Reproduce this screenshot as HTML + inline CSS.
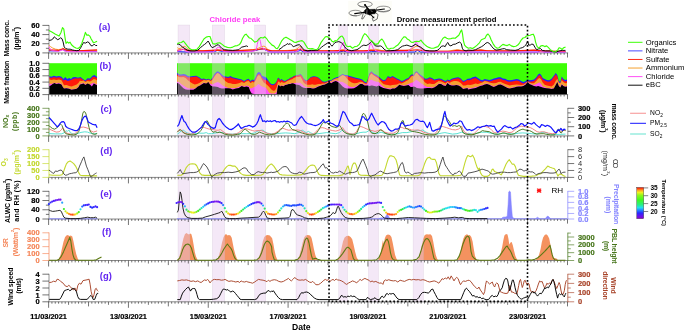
<!DOCTYPE html>
<html><head><meta charset="utf-8"><title>Figure</title>
<style>html,body{margin:0;padding:0;background:#fff}svg{display:block}</style></head>
<body>
<svg width="685" height="331" viewBox="0 0 685 331" font-family="'Liberation Sans', Arial, sans-serif">
<rect width="685" height="331" fill="#fff"/>
<rect x="49.0" y="63.2" width="48.0" height="31.8" fill="#3dff05"/>
<path d="M49.0 95.0 L49.0 76.1 L51.3 76.8 L53.9 75.8 L56.4 76.4 L58.9 76.0 L61.5 76.8 L63.4 78.9 L65.3 77.0 L67.2 78.9 L69.1 78.0 L71.0 78.9 L72.9 77.3 L75.4 77.0 L78.0 77.7 L80.5 77.0 L83.0 78.9 L85.3 80.6 L87.5 78.3 L90.0 78.5 L92.6 75.8 L94.5 75.1 L96.4 76.4 L97.0 76.8 L97.0 95.0Z" fill="#2222ff"/>
<path d="M49.0 95.0 L49.0 77.3 L51.3 78.0 L53.9 77.0 L56.4 77.7 L58.9 77.3 L61.5 78.0 L63.4 80.6 L65.3 79.8 L67.8 81.1 L70.4 80.2 L72.9 78.9 L75.4 78.3 L78.0 78.5 L80.5 78.0 L83.0 79.8 L85.3 81.5 L87.5 79.6 L90.0 79.8 L92.6 77.0 L94.5 76.8 L97.0 78.0 L97.0 95.0Z" fill="#ff1a0a"/>
<path d="M49.0 95.0 L49.0 79.2 L51.3 79.9 L53.9 79.4 L56.4 80.1 L58.9 79.4 L61.5 80.3 L62.8 82.7 L64.0 85.3 L66.6 84.9 L69.1 85.9 L71.6 86.5 L74.2 85.6 L76.7 84.6 L78.6 82.7 L79.9 80.8 L81.8 81.1 L83.7 80.6 L85.3 82.1 L87.5 81.1 L90.0 81.5 L91.9 80.6 L93.8 78.9 L95.7 79.6 L97.0 80.6 L97.0 95.0Z" fill="#f5a030"/>
<path d="M49.0 95.0 L49.0 83.4 L50.7 84.0 L52.6 83.4 L54.5 82.7 L56.4 83.4 L58.9 82.7 L61.5 84.0 L62.8 86.5 L64.0 88.4 L66.6 87.8 L69.1 88.4 L71.6 89.4 L74.2 89.1 L76.7 88.4 L78.6 86.5 L79.9 84.0 L81.8 83.6 L83.7 83.1 L85.3 84.6 L87.5 83.4 L90.0 84.4 L91.9 83.4 L93.8 82.7 L95.7 84.0 L97.0 84.6 L97.0 95.0Z" fill="#ff50f5"/>
<path d="M49.0 95.0 L49.0 86.2 L50.7 85.6 L52.6 84.0 L54.5 83.1 L56.4 84.0 L58.9 83.4 L61.5 84.4 L62.8 86.9 L64.0 88.4 L66.6 88.2 L69.1 88.7 L71.6 89.7 L74.2 89.2 L76.7 88.7 L78.6 86.9 L79.9 84.4 L81.8 84.0 L83.7 83.4 L85.3 84.9 L87.5 83.6 L90.0 84.6 L91.9 86.5 L93.8 83.4 L95.7 84.4 L97.0 85.3 L97.0 95.0Z" fill="#000"/>
<rect x="177.0" y="63.2" width="390.0" height="31.8" fill="#3dff05"/>
<path d="M177.0 95.0 L177.0 72.7 L178.8 74.2 L181.1 74.5 L183.4 73.9 L185.7 74.5 L187.9 76.0 L190.2 76.5 L193.3 76.0 L196.3 75.7 L199.3 77.3 L201.6 79.1 L203.9 78.5 L206.2 79.5 L208.4 78.8 L210.7 80.0 L212.7 77.3 L214.5 73.9 L216.3 71.9 L217.8 71.2 L219.8 72.4 L221.8 74.5 L223.6 76.0 L225.9 76.5 L228.2 77.0 L230.4 76.0 L232.7 77.3 L235.8 78.0 L238.8 78.8 L241.8 79.5 L244.1 81.0 L246.4 79.5 L248.7 78.8 L250.6 81.0 L252.2 79.5 L254.0 80.3 L255.8 76.5 L257.3 73.0 L258.8 71.9 L260.4 72.7 L261.9 75.7 L263.8 76.5 L266.1 77.3 L268.0 80.1 L269.7 82.4 L271.4 84.1 L273.2 84.3 L274.9 83.5 L276.6 81.2 L277.8 78.1 L278.9 77.8 L280.1 80.1 L281.5 78.9 L283.5 80.4 L285.2 80.9 L286.9 79.7 L288.7 78.9 L290.4 77.8 L292.1 77.2 L293.8 76.1 L295.6 75.5 L297.3 74.9 L299.0 74.7 L300.4 74.0 L301.9 75.5 L303.6 78.4 L305.3 80.1 L307.0 80.4 L308.8 78.9 L310.5 77.2 L312.2 76.6 L313.9 76.3 L315.6 76.4 L317.4 77.0 L319.1 78.1 L320.8 79.7 L322.5 81.2 L324.3 81.8 L326.0 81.6 L327.7 80.7 L329.4 80.1 L331.2 80.3 L333.5 78.5 L335.8 77.6 L338.0 77.0 L340.3 75.4 L342.6 73.9 L344.9 75.0 L347.1 75.0 L349.4 76.0 L351.7 76.5 L354.0 77.3 L357.0 78.0 L360.1 78.8 L362.3 79.5 L364.6 81.8 L366.4 82.6 L367.9 78.8 L369.5 73.5 L371.4 71.2 L372.0 71.9 L374.3 73.9 L376.6 75.0 L378.8 76.5 L381.1 78.8 L383.4 80.3 L385.7 79.5 L387.9 76.0 L390.2 77.3 L392.5 76.0 L394.8 77.3 L397.0 78.5 L399.3 79.5 L401.6 81.0 L403.9 80.3 L406.2 78.8 L408.4 78.0 L410.7 75.0 L412.2 74.2 L413.7 75.0 L415.3 71.9 L416.8 71.2 L418.3 73.0 L420.6 75.0 L422.9 76.5 L425.1 78.8 L427.4 78.5 L429.7 77.3 L432.0 78.0 L434.2 79.5 L436.5 79.1 L438.8 78.5 L441.1 78.8 L443.4 80.0 L445.6 81.0 L447.5 79.5 L449.4 80.3 L451.7 78.8 L454.0 78.0 L456.3 77.6 L458.5 77.3 L460.8 78.5 L463.1 81.0 L465.4 80.3 L467.6 78.8 L468.0 78.8 L470.3 78.5 L472.6 77.3 L475.6 76.5 L477.9 78.0 L480.1 79.5 L482.4 80.3 L484.7 79.1 L487.0 79.5 L489.3 80.0 L491.5 79.5 L493.8 78.5 L496.1 78.0 L498.4 77.3 L500.6 77.3 L502.9 78.5 L505.2 78.8 L507.5 80.0 L509.7 80.3 L512.0 80.0 L514.3 79.5 L516.6 79.1 L518.9 79.5 L521.1 81.0 L523.4 82.1 L525.7 81.0 L527.7 79.5 L529.5 80.3 L531.8 80.0 L534.0 79.5 L536.3 77.3 L538.1 74.5 L539.7 73.5 L541.2 75.0 L542.7 78.0 L544.7 79.1 L546.9 80.0 L549.2 80.3 L551.5 78.8 L553.8 75.7 L555.7 73.0 L557.3 75.0 L558.8 81.0 L560.3 81.8 L561.8 76.5 L563.3 78.8 L565.2 80.0 L567.0 79.5 L567.0 95.0Z" fill="#2222ff"/>
<path d="M177.0 95.0 L177.0 74.2 L178.8 75.4 L181.1 75.7 L183.4 75.4 L185.7 76.0 L187.9 77.6 L190.2 77.3 L193.3 77.0 L196.3 76.6 L199.3 78.2 L201.6 80.0 L203.9 79.2 L206.2 80.3 L208.4 79.5 L210.7 80.6 L212.7 78.5 L214.5 75.4 L216.3 73.5 L217.8 72.7 L219.8 73.9 L221.8 76.0 L223.6 77.3 L225.9 77.6 L228.2 77.9 L230.4 77.3 L232.7 78.2 L235.8 79.1 L238.8 79.7 L241.8 80.3 L244.1 81.8 L246.4 80.3 L248.7 79.7 L250.6 82.1 L252.2 80.6 L254.0 81.5 L255.8 78.5 L257.3 75.0 L258.8 73.9 L260.4 74.5 L261.9 77.6 L263.8 79.5 L266.1 80.0 L268.0 81.2 L269.7 83.5 L271.4 85.0 L273.2 85.3 L274.9 84.3 L276.6 82.0 L277.8 78.9 L278.9 78.6 L280.1 80.9 L281.5 79.7 L283.5 81.2 L285.2 81.6 L286.9 80.4 L288.7 79.5 L290.4 78.4 L292.1 77.8 L293.8 76.6 L295.6 76.1 L297.3 75.5 L299.0 75.3 L300.4 74.7 L301.9 76.1 L303.6 78.9 L305.3 80.7 L307.0 81.0 L308.8 79.5 L310.5 77.8 L312.2 77.2 L313.9 76.9 L315.6 77.0 L317.4 77.6 L319.1 78.7 L320.8 80.3 L322.5 81.8 L324.3 82.4 L326.0 82.2 L327.7 81.2 L329.4 80.7 L331.2 81.2 L333.5 79.4 L335.8 78.5 L338.0 77.9 L340.3 76.3 L342.6 74.8 L344.9 75.9 L347.1 75.9 L349.4 76.9 L351.7 77.4 L354.0 78.2 L357.0 78.9 L360.1 79.7 L362.3 80.4 L364.6 82.7 L366.4 83.5 L367.9 79.7 L369.5 74.4 L371.4 72.1 L372.0 72.9 L374.3 74.9 L376.6 76.0 L378.8 77.5 L381.1 79.8 L383.4 81.3 L385.7 80.5 L387.9 77.0 L390.2 78.3 L392.5 77.0 L394.8 78.3 L397.0 79.5 L399.3 80.5 L401.6 82.0 L403.9 81.3 L406.2 79.8 L408.4 79.0 L410.7 76.0 L412.2 75.2 L413.7 76.0 L415.3 72.9 L416.8 72.2 L418.3 74.0 L420.6 76.0 L422.9 77.5 L425.1 79.8 L427.4 79.5 L429.7 78.3 L432.0 79.0 L434.2 80.5 L436.5 80.1 L438.8 79.5 L441.1 79.8 L443.4 81.0 L445.6 82.0 L447.5 80.5 L449.4 81.3 L451.7 79.8 L454.0 79.0 L456.3 78.6 L458.5 78.3 L460.8 79.5 L463.1 82.0 L465.4 81.3 L467.6 79.8 L468.0 80.2 L470.3 79.9 L472.6 78.7 L475.6 77.9 L477.9 79.4 L480.1 80.9 L482.4 81.7 L484.7 80.5 L487.0 80.9 L489.3 81.4 L491.5 80.9 L493.8 79.9 L496.1 79.4 L498.4 78.7 L500.6 78.7 L502.9 79.9 L505.2 80.2 L507.5 81.4 L509.7 81.7 L512.0 81.4 L514.3 80.9 L516.6 80.5 L518.9 80.9 L521.1 82.4 L523.4 83.5 L525.7 82.4 L527.7 80.9 L529.5 81.7 L531.8 81.4 L534.0 80.9 L536.3 78.7 L538.1 75.9 L539.7 74.9 L541.2 76.4 L542.7 79.4 L544.7 80.5 L546.9 81.4 L549.2 81.7 L551.5 80.2 L553.8 77.1 L555.7 74.4 L557.3 76.4 L558.8 82.4 L560.3 83.2 L561.8 77.9 L563.3 80.2 L565.2 81.4 L567.0 80.9 L567.0 95.0Z" fill="#ff1a0a"/>
<path d="M177.0 95.0 L177.0 75.7 L178.8 77.0 L181.1 77.3 L183.4 77.0 L185.7 78.0 L187.9 80.3 L190.2 82.1 L192.5 83.6 L194.8 84.5 L197.0 84.1 L199.3 83.0 L201.6 81.5 L203.9 80.0 L206.2 80.6 L208.4 79.7 L210.7 81.0 L212.7 79.5 L214.5 76.5 L216.3 73.9 L217.8 73.0 L219.8 74.2 L221.8 77.3 L223.6 79.5 L225.9 81.5 L228.2 83.0 L230.4 83.3 L232.7 84.1 L235.8 84.1 L238.8 83.3 L241.8 82.1 L244.1 83.0 L246.4 81.5 L248.7 81.0 L250.6 83.3 L252.2 82.1 L254.0 82.6 L255.8 80.0 L257.3 76.5 L258.8 75.0 L260.4 76.0 L261.9 79.5 L263.8 82.6 L266.1 84.1 L268.0 85.8 L269.7 87.6 L271.4 89.6 L273.2 90.8 L274.9 90.4 L276.6 87.6 L277.8 82.4 L278.9 81.2 L280.1 83.0 L281.5 82.0 L283.5 82.7 L285.2 82.4 L286.9 81.2 L288.7 80.4 L290.4 79.7 L292.1 79.3 L293.8 78.1 L295.6 77.2 L297.3 77.0 L299.0 77.0 L300.4 76.6 L301.9 78.9 L303.6 82.4 L305.3 84.1 L307.0 84.7 L308.8 84.7 L310.5 84.7 L312.2 84.3 L313.9 84.7 L315.6 84.7 L317.4 84.3 L319.1 83.9 L320.8 83.9 L322.5 83.5 L324.3 83.5 L326.0 83.0 L327.7 81.8 L329.4 81.0 L331.2 81.0 L333.5 79.5 L335.8 78.5 L338.0 78.0 L340.3 76.5 L342.6 75.0 L344.9 76.0 L347.1 78.8 L349.4 81.0 L351.7 82.6 L354.0 83.3 L357.0 83.0 L360.1 81.8 L362.3 82.1 L364.6 83.6 L366.4 84.1 L367.9 81.0 L369.5 75.7 L371.4 73.5 L372.0 73.9 L374.3 75.7 L376.6 77.3 L378.8 78.8 L381.1 81.8 L383.4 84.1 L385.7 84.8 L387.9 85.1 L390.2 85.6 L392.5 85.1 L394.8 84.8 L397.0 84.5 L399.3 83.3 L401.6 83.6 L403.9 82.6 L406.2 81.0 L408.4 80.0 L410.7 77.3 L412.2 75.7 L413.7 76.5 L415.3 73.5 L416.8 72.4 L418.3 74.5 L420.6 77.3 L422.9 80.0 L425.1 82.6 L427.4 84.1 L429.7 83.6 L432.0 84.1 L434.2 84.1 L436.5 82.6 L438.8 81.0 L441.1 81.5 L443.4 82.6 L445.6 83.6 L447.5 81.5 L449.4 83.0 L451.7 81.8 L454.0 81.0 L456.3 81.0 L458.5 81.5 L460.8 83.0 L463.1 85.6 L465.4 85.6 L467.6 84.8 L468.0 84.8 L470.3 85.1 L472.6 84.5 L475.6 83.6 L477.9 84.1 L480.1 83.3 L482.4 82.6 L484.7 81.0 L487.0 81.5 L489.3 82.6 L491.5 83.0 L493.8 83.3 L496.1 83.0 L498.4 82.1 L500.6 81.8 L502.9 83.0 L505.2 84.1 L507.5 84.8 L509.7 85.6 L512.0 85.1 L514.3 84.8 L516.6 84.5 L518.9 84.8 L521.1 85.1 L523.4 84.8 L525.7 83.3 L527.7 81.0 L529.5 82.6 L531.8 83.3 L534.0 83.3 L536.3 81.0 L538.1 78.8 L539.7 78.0 L541.2 79.5 L542.7 82.6 L544.7 84.8 L546.9 85.6 L549.2 86.1 L551.5 86.4 L553.8 84.8 L555.7 81.0 L557.3 78.8 L558.8 82.6 L560.3 83.3 L561.8 80.3 L563.3 82.1 L565.2 83.3 L567.0 83.0 L567.0 95.0Z" fill="#f5a030"/>
<path d="M177.0 95.0 L177.0 81.8 L178.8 82.1 L181.1 84.1 L183.4 85.6 L185.7 87.1 L187.9 88.2 L190.2 88.6 L192.5 88.6 L194.8 88.6 L197.0 87.1 L199.3 85.6 L201.6 84.1 L203.9 82.6 L206.2 83.3 L208.4 82.1 L210.7 84.1 L212.7 84.5 L214.5 83.3 L216.3 82.6 L217.8 82.1 L219.8 83.0 L221.8 84.8 L223.6 86.1 L225.9 87.1 L228.2 87.9 L230.4 87.9 L232.7 88.2 L235.8 87.9 L238.8 87.1 L241.8 85.6 L244.1 86.4 L246.4 85.6 L248.7 86.1 L250.6 88.6 L252.2 87.9 L254.0 87.1 L255.8 86.4 L257.3 84.8 L258.8 84.1 L260.4 85.6 L261.9 86.4 L263.8 87.1 L266.1 87.9 L268.0 90.8 L269.1 92.7 L271.4 93.5 L274.9 93.5 L276.6 92.1 L277.8 85.0 L278.9 84.7 L280.1 86.2 L281.5 85.5 L283.5 85.8 L285.2 84.7 L286.9 84.3 L288.7 83.9 L290.4 83.5 L292.1 83.0 L293.8 83.0 L295.6 83.0 L297.3 82.7 L299.0 82.7 L300.4 83.0 L301.9 84.1 L303.6 85.8 L305.3 87.0 L307.0 87.6 L308.8 87.6 L310.5 87.6 L312.2 88.1 L313.9 88.1 L315.6 87.6 L317.4 86.6 L319.1 85.8 L320.8 85.5 L322.5 84.7 L324.3 84.3 L326.0 83.9 L327.7 82.7 L329.4 81.8 L331.2 82.6 L333.5 81.0 L335.8 80.3 L338.0 81.0 L340.3 81.8 L342.6 82.1 L344.9 83.3 L347.1 84.8 L349.4 86.4 L351.7 87.1 L354.0 87.1 L357.0 85.6 L360.1 83.6 L362.3 83.6 L364.6 84.8 L366.4 84.8 L367.9 83.0 L369.5 80.3 L371.4 79.5 L372.0 80.0 L374.3 81.0 L376.6 81.8 L378.8 82.1 L381.1 84.8 L383.4 86.7 L385.7 87.9 L387.9 88.2 L390.2 88.6 L392.5 88.2 L394.8 87.9 L397.0 86.4 L399.3 84.5 L401.6 85.1 L403.9 85.6 L406.2 85.1 L408.4 84.1 L410.7 83.0 L412.2 82.6 L413.7 82.1 L415.3 80.3 L416.8 80.0 L418.3 81.0 L420.6 83.0 L422.9 84.5 L425.1 86.1 L427.4 87.1 L429.7 87.1 L432.0 87.6 L434.2 87.1 L436.5 85.6 L438.8 83.6 L441.1 83.6 L443.4 84.8 L445.6 85.6 L447.5 82.6 L449.4 84.1 L451.7 85.1 L454.0 85.1 L456.3 84.8 L458.5 85.1 L460.8 86.4 L463.1 88.6 L465.4 88.2 L467.6 87.6 L468.0 88.6 L470.3 88.2 L472.6 87.9 L475.6 87.1 L477.9 86.7 L480.1 85.6 L482.4 85.1 L484.7 84.1 L487.0 83.6 L489.3 84.5 L491.5 85.6 L493.8 86.4 L496.1 85.6 L498.4 84.5 L500.6 84.1 L502.9 85.1 L505.2 86.4 L507.5 87.6 L509.7 88.2 L512.0 87.6 L514.3 87.1 L516.6 86.4 L518.9 86.1 L521.1 86.1 L523.4 85.6 L525.7 84.1 L527.7 81.8 L529.5 83.6 L531.8 84.5 L534.0 85.1 L536.3 84.1 L538.1 83.0 L539.7 82.6 L541.2 84.1 L542.7 86.4 L544.7 87.1 L546.9 87.9 L549.2 88.2 L551.5 88.6 L553.8 88.2 L555.7 84.8 L557.3 81.8 L558.8 85.6 L560.3 87.1 L561.8 84.1 L563.3 85.6 L565.2 86.4 L567.0 86.1 L567.0 95.0Z" fill="#ff50f5"/>
<path d="M177.0 95.0 L177.0 83.0 L178.8 83.6 L181.1 86.1 L183.4 88.2 L185.7 89.4 L187.9 89.7 L190.2 89.7 L193.3 89.7 L195.5 88.6 L197.8 86.4 L200.1 85.6 L202.4 84.1 L203.9 83.0 L206.2 83.6 L208.4 82.1 L210.7 85.6 L212.7 86.4 L214.5 86.4 L216.3 86.7 L217.8 87.1 L219.8 87.9 L221.8 88.6 L223.6 88.6 L225.9 88.2 L228.2 88.2 L230.4 88.6 L232.7 89.4 L235.8 88.6 L238.8 87.9 L241.8 86.1 L244.1 87.1 L246.4 86.4 L248.7 87.1 L250.2 90.9 L251.7 93.6 L254.0 94.0 L268.0 94.2 L276.6 94.2 L277.4 88.7 L278.1 85.5 L278.9 85.0 L280.1 86.6 L281.5 85.8 L283.5 86.2 L285.2 85.0 L286.9 84.7 L288.7 84.1 L290.4 83.9 L292.1 83.3 L293.8 83.5 L295.6 84.5 L297.3 84.7 L299.0 85.0 L300.4 85.8 L301.9 87.0 L303.6 87.8 L305.3 87.9 L307.0 87.9 L308.8 87.9 L310.5 87.9 L312.2 88.5 L313.9 88.5 L315.6 87.9 L317.4 87.0 L319.1 86.2 L320.8 85.8 L322.5 85.0 L324.3 84.7 L326.0 84.1 L327.7 83.0 L329.4 82.0 L331.2 83.3 L333.5 81.8 L335.8 81.0 L338.0 82.1 L340.3 84.1 L342.6 86.4 L344.9 87.9 L347.1 88.6 L349.4 88.6 L351.7 88.6 L354.0 88.2 L357.0 86.4 L360.1 84.1 L362.3 84.1 L364.6 85.6 L366.4 85.6 L367.9 85.6 L369.5 86.1 L371.4 85.6 L372.0 85.6 L374.3 86.1 L376.6 86.4 L378.8 85.6 L381.1 87.1 L383.4 87.9 L385.7 88.6 L387.9 89.1 L390.2 89.4 L392.5 88.6 L394.8 88.6 L397.0 87.1 L399.3 84.8 L401.6 85.6 L403.9 86.1 L406.2 85.6 L408.4 85.1 L410.7 87.1 L412.2 87.1 L413.7 86.4 L415.3 87.1 L416.8 87.9 L418.3 88.2 L420.6 88.6 L422.9 88.6 L425.1 88.2 L427.4 87.9 L429.7 87.9 L432.0 88.2 L434.2 87.6 L436.5 86.1 L438.8 84.1 L441.1 84.1 L443.4 85.6 L445.6 86.1 L447.5 83.0 L449.4 84.8 L451.7 85.6 L454.0 85.6 L456.3 85.1 L458.5 85.6 L460.8 86.7 L463.1 89.1 L465.4 88.6 L467.6 87.9 L468.0 89.4 L470.3 89.1 L472.6 88.6 L475.6 87.9 L477.9 87.1 L480.1 86.1 L482.4 85.6 L484.7 84.5 L487.0 84.1 L489.3 84.8 L491.5 86.1 L493.8 87.0 L496.1 86.1 L498.4 84.8 L500.6 84.5 L502.9 85.6 L505.2 86.7 L507.5 87.9 L509.7 88.6 L512.0 87.9 L514.3 87.6 L516.6 86.8 L518.9 86.4 L521.1 86.4 L523.4 86.1 L525.7 84.5 L527.7 82.1 L529.5 84.1 L531.8 85.1 L534.0 86.1 L536.3 86.4 L538.1 86.1 L539.7 86.4 L541.2 87.1 L542.7 87.6 L544.7 87.9 L546.9 88.3 L549.2 88.6 L551.5 89.1 L553.8 88.6 L555.7 85.1 L557.3 82.1 L558.8 86.1 L560.3 87.6 L561.8 84.5 L563.3 86.1 L565.2 86.8 L567.0 86.4 L567.0 95.0Z" fill="#000"/>
<path d="M57.7 260.4 L59.1 258.5 L60.6 254.8 L62.0 248.3 L63.5 241.7 L65.0 237.3 L66.4 235.4 L67.9 235.1 L69.3 235.9 L70.8 235.4 L72.3 236.6 L73.4 241.0 L74.7 247.5 L76.2 254.1 L77.7 258.5 L78.8 260.4Z" fill="#f4925f"/>
<path d="M177.3 260.4 L178.8 258.2 L180.3 252.8 L181.9 245.3 L183.4 238.4 L184.9 234.3 L186.4 233.1 L187.9 233.9 L189.0 234.6 L190.2 233.4 L191.4 234.3 L192.5 238.4 L193.7 245.3 L194.8 252.1 L196.0 256.6 L197.5 259.7 L198.6 260.4Z" fill="#f4925f"/>
<path d="M216.0 260.4 L217.5 258.9 L219.1 255.1 L220.6 249.0 L222.1 242.2 L223.6 236.9 L225.1 234.6 L226.3 234.3 L227.6 235.4 L228.9 234.9 L230.4 235.4 L231.7 237.7 L232.7 243.0 L233.9 249.0 L235.5 255.1 L237.0 258.9 L238.5 260.4Z" fill="#f4925f"/>
<path d="M256.3 260.4 L257.8 259.2 L259.7 255.1 L261.3 249.0 L262.8 241.5 L264.3 236.9 L265.8 235.4 L267.6 234.9 L269.9 235.4 L271.4 237.4 L272.0 237.7 L273.2 243.0 L274.4 249.8 L275.8 255.9 L277.3 259.7 L278.4 260.4Z" fill="#f4925f"/>
<path d="M296.3 260.4 L298.1 258.9 L299.6 255.1 L301.1 249.0 L302.7 242.2 L304.2 237.4 L305.7 235.4 L307.7 234.9 L310.0 235.4 L311.5 237.7 L312.7 243.0 L313.9 249.0 L315.3 255.1 L316.8 259.2 L317.8 260.4Z" fill="#f4925f"/>
<path d="M336.5 260.4 L338.5 258.6 L340.0 254.4 L341.5 248.3 L343.0 241.5 L344.6 237.4 L346.4 236.1 L348.7 235.8 L350.6 236.9 L352.2 239.2 L353.7 245.3 L355.2 252.1 L356.7 257.4 L358.2 260.1 L358.8 260.4Z" fill="#f4925f"/>
<path d="M377.3 260.4 L379.3 257.4 L380.8 252.1 L382.0 245.3 L382.9 239.9 L383.8 243.7 L384.8 238.4 L386.0 235.4 L387.9 234.6 L389.9 234.9 L391.4 236.9 L392.6 242.2 L393.9 249.0 L395.1 255.1 L396.6 258.9 L397.8 260.4Z" fill="#f4925f"/>
<path d="M416.8 260.4 L418.8 258.2 L420.3 252.8 L421.8 245.3 L423.3 238.4 L424.8 234.9 L426.7 234.3 L428.5 234.6 L430.4 234.3 L432.0 236.1 L433.2 241.5 L434.4 248.3 L435.8 255.1 L437.3 259.2 L438.5 260.4Z" fill="#f4925f"/>
<path d="M457.0 260.4 L458.8 257.7 L460.4 252.1 L461.9 244.5 L463.4 238.4 L464.9 235.4 L466.9 234.3 L467.6 234.5 L468.0 235.4 L469.8 234.9 L471.3 236.9 L472.6 241.5 L473.8 249.0 L475.0 255.9 L476.5 259.2 L477.9 260.4Z" fill="#f4925f"/>
<path d="M496.8 260.4 L499.1 258.2 L500.6 253.6 L502.2 246.8 L503.4 239.9 L504.4 235.4 L506.0 233.9 L507.5 234.6 L508.4 238.4 L509.3 244.5 L510.5 242.5 L511.7 241.9 L512.8 245.3 L514.0 250.6 L515.4 255.9 L516.9 259.2 L518.1 260.4Z" fill="#f4925f"/>
<path d="M534.8 260.4 L537.1 258.6 L539.0 255.1 L540.6 249.0 L541.8 242.2 L543.1 237.4 L544.7 234.9 L546.2 234.3 L547.7 235.4 L549.2 238.4 L550.4 244.5 L551.8 252.1 L553.0 256.6 L554.5 258.2 L556.1 258.2 L557.6 259.7 L559.1 260.4Z" fill="#f4925f"/>
<rect x="178.0" y="25" width="11.8" height="277" fill="rgba(228,200,235,0.42)" stroke="rgba(200,185,205,0.5)" stroke-width="0.4"/>
<rect x="212.3" y="25" width="12.4" height="277" fill="rgba(228,200,235,0.42)" stroke="rgba(200,185,205,0.5)" stroke-width="0.4"/>
<rect x="254.7" y="25" width="11.1" height="277" fill="rgba(228,200,235,0.42)" stroke="rgba(200,185,205,0.5)" stroke-width="0.4"/>
<rect x="296.0" y="25" width="11.0" height="277" fill="rgba(228,200,235,0.42)" stroke="rgba(200,185,205,0.5)" stroke-width="0.4"/>
<rect x="338.7" y="25" width="8.9" height="277" fill="rgba(228,200,235,0.42)" stroke="rgba(200,185,205,0.5)" stroke-width="0.4"/>
<rect x="368.4" y="25" width="10.2" height="277" fill="rgba(228,200,235,0.42)" stroke="rgba(200,185,205,0.5)" stroke-width="0.4"/>
<rect x="413.1" y="25" width="10.4" height="277" fill="rgba(228,200,235,0.42)" stroke="rgba(200,185,205,0.5)" stroke-width="0.4"/>
<path d="M48.6 52.9H568.1" stroke="#7f7f7f" stroke-width="0.9" fill="none"/>
<path d="M48.60 52.9v6.0M51.93 52.9v1.9M55.25 52.9v1.9M58.58 52.9v1.9M61.91 52.9v1.9M65.23 52.9v1.9M68.56 52.9v3.0M71.88 52.9v1.9M75.21 52.9v1.9M78.54 52.9v1.9M81.86 52.9v1.9M85.19 52.9v1.9M88.52 52.9v4.6M91.84 52.9v1.9M95.17 52.9v1.9M98.49 52.9v1.9M101.82 52.9v1.9M105.15 52.9v1.9M108.47 52.9v3.0M111.80 52.9v1.9M115.12 52.9v1.9M118.45 52.9v1.9M121.78 52.9v1.9M125.10 52.9v1.9M128.43 52.9v6.0M131.76 52.9v1.9M135.08 52.9v1.9M138.41 52.9v1.9M141.73 52.9v1.9M145.06 52.9v1.9M148.39 52.9v3.0M151.71 52.9v1.9M155.04 52.9v1.9M158.37 52.9v1.9M161.69 52.9v1.9M165.02 52.9v1.9M168.34 52.9v4.6M171.67 52.9v1.9M175.00 52.9v1.9M178.32 52.9v1.9M181.65 52.9v1.9M184.98 52.9v1.9M188.30 52.9v3.0M191.63 52.9v1.9M194.95 52.9v1.9M198.28 52.9v1.9M201.61 52.9v1.9M204.93 52.9v1.9M208.26 52.9v6.0M211.59 52.9v1.9M214.91 52.9v1.9M218.24 52.9v1.9M221.56 52.9v1.9M224.89 52.9v1.9M228.22 52.9v3.0M231.54 52.9v1.9M234.87 52.9v1.9M238.20 52.9v1.9M241.52 52.9v1.9M244.85 52.9v1.9M248.18 52.9v4.6M251.50 52.9v1.9M254.83 52.9v1.9M258.15 52.9v1.9M261.48 52.9v1.9M264.81 52.9v1.9M268.13 52.9v3.0M271.46 52.9v1.9M274.78 52.9v1.9M278.11 52.9v1.9M281.44 52.9v1.9M284.76 52.9v1.9M288.09 52.9v6.0M291.42 52.9v1.9M294.74 52.9v1.9M298.07 52.9v1.9M301.39 52.9v1.9M304.72 52.9v1.9M308.05 52.9v3.0M311.37 52.9v1.9M314.70 52.9v1.9M318.03 52.9v1.9M321.35 52.9v1.9M324.68 52.9v1.9M328.01 52.9v4.6M331.33 52.9v1.9M334.66 52.9v1.9M337.98 52.9v1.9M341.31 52.9v1.9M344.64 52.9v1.9M347.96 52.9v3.0M351.29 52.9v1.9M354.62 52.9v1.9M357.94 52.9v1.9M361.27 52.9v1.9M364.59 52.9v1.9M367.92 52.9v6.0M371.25 52.9v1.9M374.57 52.9v1.9M377.90 52.9v1.9M381.23 52.9v1.9M384.55 52.9v1.9M387.88 52.9v3.0M391.20 52.9v1.9M394.53 52.9v1.9M397.86 52.9v1.9M401.18 52.9v1.9M404.51 52.9v1.9M407.83 52.9v4.6M411.16 52.9v1.9M414.49 52.9v1.9M417.81 52.9v1.9M421.14 52.9v1.9M424.47 52.9v1.9M427.79 52.9v3.0M431.12 52.9v1.9M434.45 52.9v1.9M437.77 52.9v1.9M441.10 52.9v1.9M444.42 52.9v1.9M447.75 52.9v6.0M451.08 52.9v1.9M454.40 52.9v1.9M457.73 52.9v1.9M461.06 52.9v1.9M464.38 52.9v1.9M467.71 52.9v3.0M471.03 52.9v1.9M474.36 52.9v1.9M477.69 52.9v1.9M481.01 52.9v1.9M484.34 52.9v1.9M487.67 52.9v4.6M490.99 52.9v1.9M494.32 52.9v1.9M497.64 52.9v1.9M500.97 52.9v1.9M504.30 52.9v1.9M507.62 52.9v3.0M510.95 52.9v1.9M514.27 52.9v1.9M517.60 52.9v1.9M520.93 52.9v1.9M524.25 52.9v1.9M527.58 52.9v6.0M530.91 52.9v1.9M534.23 52.9v1.9M537.56 52.9v1.9M540.88 52.9v1.9M544.21 52.9v1.9M547.54 52.9v3.0M550.86 52.9v1.9M554.19 52.9v1.9M557.52 52.9v1.9M560.84 52.9v1.9M564.17 52.9v1.9M567.50 52.9v4.6" stroke="#2a2a2a" stroke-width="0.65" fill="none"/>
<path d="M48.6 94.6H568.1" stroke="#7f7f7f" stroke-width="0.9" fill="none"/>
<path d="M48.60 94.6v6.0M51.93 94.6v1.9M55.25 94.6v1.9M58.58 94.6v1.9M61.91 94.6v1.9M65.23 94.6v1.9M68.56 94.6v3.0M71.88 94.6v1.9M75.21 94.6v1.9M78.54 94.6v1.9M81.86 94.6v1.9M85.19 94.6v1.9M88.52 94.6v4.6M91.84 94.6v1.9M95.17 94.6v1.9M98.49 94.6v1.9M101.82 94.6v1.9M105.15 94.6v1.9M108.47 94.6v3.0M111.80 94.6v1.9M115.12 94.6v1.9M118.45 94.6v1.9M121.78 94.6v1.9M125.10 94.6v1.9M128.43 94.6v6.0M131.76 94.6v1.9M135.08 94.6v1.9M138.41 94.6v1.9M141.73 94.6v1.9M145.06 94.6v1.9M148.39 94.6v3.0M151.71 94.6v1.9M155.04 94.6v1.9M158.37 94.6v1.9M161.69 94.6v1.9M165.02 94.6v1.9M168.34 94.6v4.6M171.67 94.6v1.9M175.00 94.6v1.9M178.32 94.6v1.9M181.65 94.6v1.9M184.98 94.6v1.9M188.30 94.6v3.0M191.63 94.6v1.9M194.95 94.6v1.9M198.28 94.6v1.9M201.61 94.6v1.9M204.93 94.6v1.9M208.26 94.6v6.0M211.59 94.6v1.9M214.91 94.6v1.9M218.24 94.6v1.9M221.56 94.6v1.9M224.89 94.6v1.9M228.22 94.6v3.0M231.54 94.6v1.9M234.87 94.6v1.9M238.20 94.6v1.9M241.52 94.6v1.9M244.85 94.6v1.9M248.18 94.6v4.6M251.50 94.6v1.9M254.83 94.6v1.9M258.15 94.6v1.9M261.48 94.6v1.9M264.81 94.6v1.9M268.13 94.6v3.0M271.46 94.6v1.9M274.78 94.6v1.9M278.11 94.6v1.9M281.44 94.6v1.9M284.76 94.6v1.9M288.09 94.6v6.0M291.42 94.6v1.9M294.74 94.6v1.9M298.07 94.6v1.9M301.39 94.6v1.9M304.72 94.6v1.9M308.05 94.6v3.0M311.37 94.6v1.9M314.70 94.6v1.9M318.03 94.6v1.9M321.35 94.6v1.9M324.68 94.6v1.9M328.01 94.6v4.6M331.33 94.6v1.9M334.66 94.6v1.9M337.98 94.6v1.9M341.31 94.6v1.9M344.64 94.6v1.9M347.96 94.6v3.0M351.29 94.6v1.9M354.62 94.6v1.9M357.94 94.6v1.9M361.27 94.6v1.9M364.59 94.6v1.9M367.92 94.6v6.0M371.25 94.6v1.9M374.57 94.6v1.9M377.90 94.6v1.9M381.23 94.6v1.9M384.55 94.6v1.9M387.88 94.6v3.0M391.20 94.6v1.9M394.53 94.6v1.9M397.86 94.6v1.9M401.18 94.6v1.9M404.51 94.6v1.9M407.83 94.6v4.6M411.16 94.6v1.9M414.49 94.6v1.9M417.81 94.6v1.9M421.14 94.6v1.9M424.47 94.6v1.9M427.79 94.6v3.0M431.12 94.6v1.9M434.45 94.6v1.9M437.77 94.6v1.9M441.10 94.6v1.9M444.42 94.6v1.9M447.75 94.6v6.0M451.08 94.6v1.9M454.40 94.6v1.9M457.73 94.6v1.9M461.06 94.6v1.9M464.38 94.6v1.9M467.71 94.6v3.0M471.03 94.6v1.9M474.36 94.6v1.9M477.69 94.6v1.9M481.01 94.6v1.9M484.34 94.6v1.9M487.67 94.6v4.6M490.99 94.6v1.9M494.32 94.6v1.9M497.64 94.6v1.9M500.97 94.6v1.9M504.30 94.6v1.9M507.62 94.6v3.0M510.95 94.6v1.9M514.27 94.6v1.9M517.60 94.6v1.9M520.93 94.6v1.9M524.25 94.6v1.9M527.58 94.6v6.0M530.91 94.6v1.9M534.23 94.6v1.9M537.56 94.6v1.9M540.88 94.6v1.9M544.21 94.6v1.9M547.54 94.6v3.0M550.86 94.6v1.9M554.19 94.6v1.9M557.52 94.6v1.9M560.84 94.6v1.9M564.17 94.6v1.9M567.50 94.6v4.6" stroke="#2a2a2a" stroke-width="0.65" fill="none"/>
<path d="M48.6 135.9H568.1" stroke="#7f7f7f" stroke-width="0.9" fill="none"/>
<path d="M48.60 135.9v6.0M51.93 135.9v1.9M55.25 135.9v1.9M58.58 135.9v1.9M61.91 135.9v1.9M65.23 135.9v1.9M68.56 135.9v3.0M71.88 135.9v1.9M75.21 135.9v1.9M78.54 135.9v1.9M81.86 135.9v1.9M85.19 135.9v1.9M88.52 135.9v4.6M91.84 135.9v1.9M95.17 135.9v1.9M98.49 135.9v1.9M101.82 135.9v1.9M105.15 135.9v1.9M108.47 135.9v3.0M111.80 135.9v1.9M115.12 135.9v1.9M118.45 135.9v1.9M121.78 135.9v1.9M125.10 135.9v1.9M128.43 135.9v6.0M131.76 135.9v1.9M135.08 135.9v1.9M138.41 135.9v1.9M141.73 135.9v1.9M145.06 135.9v1.9M148.39 135.9v3.0M151.71 135.9v1.9M155.04 135.9v1.9M158.37 135.9v1.9M161.69 135.9v1.9M165.02 135.9v1.9M168.34 135.9v4.6M171.67 135.9v1.9M175.00 135.9v1.9M178.32 135.9v1.9M181.65 135.9v1.9M184.98 135.9v1.9M188.30 135.9v3.0M191.63 135.9v1.9M194.95 135.9v1.9M198.28 135.9v1.9M201.61 135.9v1.9M204.93 135.9v1.9M208.26 135.9v6.0M211.59 135.9v1.9M214.91 135.9v1.9M218.24 135.9v1.9M221.56 135.9v1.9M224.89 135.9v1.9M228.22 135.9v3.0M231.54 135.9v1.9M234.87 135.9v1.9M238.20 135.9v1.9M241.52 135.9v1.9M244.85 135.9v1.9M248.18 135.9v4.6M251.50 135.9v1.9M254.83 135.9v1.9M258.15 135.9v1.9M261.48 135.9v1.9M264.81 135.9v1.9M268.13 135.9v3.0M271.46 135.9v1.9M274.78 135.9v1.9M278.11 135.9v1.9M281.44 135.9v1.9M284.76 135.9v1.9M288.09 135.9v6.0M291.42 135.9v1.9M294.74 135.9v1.9M298.07 135.9v1.9M301.39 135.9v1.9M304.72 135.9v1.9M308.05 135.9v3.0M311.37 135.9v1.9M314.70 135.9v1.9M318.03 135.9v1.9M321.35 135.9v1.9M324.68 135.9v1.9M328.01 135.9v4.6M331.33 135.9v1.9M334.66 135.9v1.9M337.98 135.9v1.9M341.31 135.9v1.9M344.64 135.9v1.9M347.96 135.9v3.0M351.29 135.9v1.9M354.62 135.9v1.9M357.94 135.9v1.9M361.27 135.9v1.9M364.59 135.9v1.9M367.92 135.9v6.0M371.25 135.9v1.9M374.57 135.9v1.9M377.90 135.9v1.9M381.23 135.9v1.9M384.55 135.9v1.9M387.88 135.9v3.0M391.20 135.9v1.9M394.53 135.9v1.9M397.86 135.9v1.9M401.18 135.9v1.9M404.51 135.9v1.9M407.83 135.9v4.6M411.16 135.9v1.9M414.49 135.9v1.9M417.81 135.9v1.9M421.14 135.9v1.9M424.47 135.9v1.9M427.79 135.9v3.0M431.12 135.9v1.9M434.45 135.9v1.9M437.77 135.9v1.9M441.10 135.9v1.9M444.42 135.9v1.9M447.75 135.9v6.0M451.08 135.9v1.9M454.40 135.9v1.9M457.73 135.9v1.9M461.06 135.9v1.9M464.38 135.9v1.9M467.71 135.9v3.0M471.03 135.9v1.9M474.36 135.9v1.9M477.69 135.9v1.9M481.01 135.9v1.9M484.34 135.9v1.9M487.67 135.9v4.6M490.99 135.9v1.9M494.32 135.9v1.9M497.64 135.9v1.9M500.97 135.9v1.9M504.30 135.9v1.9M507.62 135.9v3.0M510.95 135.9v1.9M514.27 135.9v1.9M517.60 135.9v1.9M520.93 135.9v1.9M524.25 135.9v1.9M527.58 135.9v6.0M530.91 135.9v1.9M534.23 135.9v1.9M537.56 135.9v1.9M540.88 135.9v1.9M544.21 135.9v1.9M547.54 135.9v3.0M550.86 135.9v1.9M554.19 135.9v1.9M557.52 135.9v1.9M560.84 135.9v1.9M564.17 135.9v1.9M567.50 135.9v4.6" stroke="#2a2a2a" stroke-width="0.65" fill="none"/>
<path d="M48.6 177.4H568.1" stroke="#7f7f7f" stroke-width="0.9" fill="none"/>
<path d="M48.60 177.4v6.0M51.93 177.4v1.9M55.25 177.4v1.9M58.58 177.4v1.9M61.91 177.4v1.9M65.23 177.4v1.9M68.56 177.4v3.0M71.88 177.4v1.9M75.21 177.4v1.9M78.54 177.4v1.9M81.86 177.4v1.9M85.19 177.4v1.9M88.52 177.4v4.6M91.84 177.4v1.9M95.17 177.4v1.9M98.49 177.4v1.9M101.82 177.4v1.9M105.15 177.4v1.9M108.47 177.4v3.0M111.80 177.4v1.9M115.12 177.4v1.9M118.45 177.4v1.9M121.78 177.4v1.9M125.10 177.4v1.9M128.43 177.4v6.0M131.76 177.4v1.9M135.08 177.4v1.9M138.41 177.4v1.9M141.73 177.4v1.9M145.06 177.4v1.9M148.39 177.4v3.0M151.71 177.4v1.9M155.04 177.4v1.9M158.37 177.4v1.9M161.69 177.4v1.9M165.02 177.4v1.9M168.34 177.4v4.6M171.67 177.4v1.9M175.00 177.4v1.9M178.32 177.4v1.9M181.65 177.4v1.9M184.98 177.4v1.9M188.30 177.4v3.0M191.63 177.4v1.9M194.95 177.4v1.9M198.28 177.4v1.9M201.61 177.4v1.9M204.93 177.4v1.9M208.26 177.4v6.0M211.59 177.4v1.9M214.91 177.4v1.9M218.24 177.4v1.9M221.56 177.4v1.9M224.89 177.4v1.9M228.22 177.4v3.0M231.54 177.4v1.9M234.87 177.4v1.9M238.20 177.4v1.9M241.52 177.4v1.9M244.85 177.4v1.9M248.18 177.4v4.6M251.50 177.4v1.9M254.83 177.4v1.9M258.15 177.4v1.9M261.48 177.4v1.9M264.81 177.4v1.9M268.13 177.4v3.0M271.46 177.4v1.9M274.78 177.4v1.9M278.11 177.4v1.9M281.44 177.4v1.9M284.76 177.4v1.9M288.09 177.4v6.0M291.42 177.4v1.9M294.74 177.4v1.9M298.07 177.4v1.9M301.39 177.4v1.9M304.72 177.4v1.9M308.05 177.4v3.0M311.37 177.4v1.9M314.70 177.4v1.9M318.03 177.4v1.9M321.35 177.4v1.9M324.68 177.4v1.9M328.01 177.4v4.6M331.33 177.4v1.9M334.66 177.4v1.9M337.98 177.4v1.9M341.31 177.4v1.9M344.64 177.4v1.9M347.96 177.4v3.0M351.29 177.4v1.9M354.62 177.4v1.9M357.94 177.4v1.9M361.27 177.4v1.9M364.59 177.4v1.9M367.92 177.4v6.0M371.25 177.4v1.9M374.57 177.4v1.9M377.90 177.4v1.9M381.23 177.4v1.9M384.55 177.4v1.9M387.88 177.4v3.0M391.20 177.4v1.9M394.53 177.4v1.9M397.86 177.4v1.9M401.18 177.4v1.9M404.51 177.4v1.9M407.83 177.4v4.6M411.16 177.4v1.9M414.49 177.4v1.9M417.81 177.4v1.9M421.14 177.4v1.9M424.47 177.4v1.9M427.79 177.4v3.0M431.12 177.4v1.9M434.45 177.4v1.9M437.77 177.4v1.9M441.10 177.4v1.9M444.42 177.4v1.9M447.75 177.4v6.0M451.08 177.4v1.9M454.40 177.4v1.9M457.73 177.4v1.9M461.06 177.4v1.9M464.38 177.4v1.9M467.71 177.4v3.0M471.03 177.4v1.9M474.36 177.4v1.9M477.69 177.4v1.9M481.01 177.4v1.9M484.34 177.4v1.9M487.67 177.4v4.6M490.99 177.4v1.9M494.32 177.4v1.9M497.64 177.4v1.9M500.97 177.4v1.9M504.30 177.4v1.9M507.62 177.4v3.0M510.95 177.4v1.9M514.27 177.4v1.9M517.60 177.4v1.9M520.93 177.4v1.9M524.25 177.4v1.9M527.58 177.4v6.0M530.91 177.4v1.9M534.23 177.4v1.9M537.56 177.4v1.9M540.88 177.4v1.9M544.21 177.4v1.9M547.54 177.4v3.0M550.86 177.4v1.9M554.19 177.4v1.9M557.52 177.4v1.9M560.84 177.4v1.9M564.17 177.4v1.9M567.50 177.4v4.6" stroke="#2a2a2a" stroke-width="0.65" fill="none"/>
<path d="M48.6 219.0H568.1" stroke="#7f7f7f" stroke-width="0.9" fill="none"/>
<path d="M48.60 219.0v6.0M51.93 219.0v1.9M55.25 219.0v1.9M58.58 219.0v1.9M61.91 219.0v1.9M65.23 219.0v1.9M68.56 219.0v3.0M71.88 219.0v1.9M75.21 219.0v1.9M78.54 219.0v1.9M81.86 219.0v1.9M85.19 219.0v1.9M88.52 219.0v4.6M91.84 219.0v1.9M95.17 219.0v1.9M98.49 219.0v1.9M101.82 219.0v1.9M105.15 219.0v1.9M108.47 219.0v3.0M111.80 219.0v1.9M115.12 219.0v1.9M118.45 219.0v1.9M121.78 219.0v1.9M125.10 219.0v1.9M128.43 219.0v6.0M131.76 219.0v1.9M135.08 219.0v1.9M138.41 219.0v1.9M141.73 219.0v1.9M145.06 219.0v1.9M148.39 219.0v3.0M151.71 219.0v1.9M155.04 219.0v1.9M158.37 219.0v1.9M161.69 219.0v1.9M165.02 219.0v1.9M168.34 219.0v4.6M171.67 219.0v1.9M175.00 219.0v1.9M178.32 219.0v1.9M181.65 219.0v1.9M184.98 219.0v1.9M188.30 219.0v3.0M191.63 219.0v1.9M194.95 219.0v1.9M198.28 219.0v1.9M201.61 219.0v1.9M204.93 219.0v1.9M208.26 219.0v6.0M211.59 219.0v1.9M214.91 219.0v1.9M218.24 219.0v1.9M221.56 219.0v1.9M224.89 219.0v1.9M228.22 219.0v3.0M231.54 219.0v1.9M234.87 219.0v1.9M238.20 219.0v1.9M241.52 219.0v1.9M244.85 219.0v1.9M248.18 219.0v4.6M251.50 219.0v1.9M254.83 219.0v1.9M258.15 219.0v1.9M261.48 219.0v1.9M264.81 219.0v1.9M268.13 219.0v3.0M271.46 219.0v1.9M274.78 219.0v1.9M278.11 219.0v1.9M281.44 219.0v1.9M284.76 219.0v1.9M288.09 219.0v6.0M291.42 219.0v1.9M294.74 219.0v1.9M298.07 219.0v1.9M301.39 219.0v1.9M304.72 219.0v1.9M308.05 219.0v3.0M311.37 219.0v1.9M314.70 219.0v1.9M318.03 219.0v1.9M321.35 219.0v1.9M324.68 219.0v1.9M328.01 219.0v4.6M331.33 219.0v1.9M334.66 219.0v1.9M337.98 219.0v1.9M341.31 219.0v1.9M344.64 219.0v1.9M347.96 219.0v3.0M351.29 219.0v1.9M354.62 219.0v1.9M357.94 219.0v1.9M361.27 219.0v1.9M364.59 219.0v1.9M367.92 219.0v6.0M371.25 219.0v1.9M374.57 219.0v1.9M377.90 219.0v1.9M381.23 219.0v1.9M384.55 219.0v1.9M387.88 219.0v3.0M391.20 219.0v1.9M394.53 219.0v1.9M397.86 219.0v1.9M401.18 219.0v1.9M404.51 219.0v1.9M407.83 219.0v4.6M411.16 219.0v1.9M414.49 219.0v1.9M417.81 219.0v1.9M421.14 219.0v1.9M424.47 219.0v1.9M427.79 219.0v3.0M431.12 219.0v1.9M434.45 219.0v1.9M437.77 219.0v1.9M441.10 219.0v1.9M444.42 219.0v1.9M447.75 219.0v6.0M451.08 219.0v1.9M454.40 219.0v1.9M457.73 219.0v1.9M461.06 219.0v1.9M464.38 219.0v1.9M467.71 219.0v3.0M471.03 219.0v1.9M474.36 219.0v1.9M477.69 219.0v1.9M481.01 219.0v1.9M484.34 219.0v1.9M487.67 219.0v4.6M490.99 219.0v1.9M494.32 219.0v1.9M497.64 219.0v1.9M500.97 219.0v1.9M504.30 219.0v1.9M507.62 219.0v3.0M510.95 219.0v1.9M514.27 219.0v1.9M517.60 219.0v1.9M520.93 219.0v1.9M524.25 219.0v1.9M527.58 219.0v6.0M530.91 219.0v1.9M534.23 219.0v1.9M537.56 219.0v1.9M540.88 219.0v1.9M544.21 219.0v1.9M547.54 219.0v3.0M550.86 219.0v1.9M554.19 219.0v1.9M557.52 219.0v1.9M560.84 219.0v1.9M564.17 219.0v1.9M567.50 219.0v4.6" stroke="#2a2a2a" stroke-width="0.65" fill="none"/>
<path d="M48.6 260.5H568.1" stroke="#7f7f7f" stroke-width="0.9" fill="none"/>
<path d="M48.60 260.5v6.0M51.93 260.5v1.9M55.25 260.5v1.9M58.58 260.5v1.9M61.91 260.5v1.9M65.23 260.5v1.9M68.56 260.5v3.0M71.88 260.5v1.9M75.21 260.5v1.9M78.54 260.5v1.9M81.86 260.5v1.9M85.19 260.5v1.9M88.52 260.5v4.6M91.84 260.5v1.9M95.17 260.5v1.9M98.49 260.5v1.9M101.82 260.5v1.9M105.15 260.5v1.9M108.47 260.5v3.0M111.80 260.5v1.9M115.12 260.5v1.9M118.45 260.5v1.9M121.78 260.5v1.9M125.10 260.5v1.9M128.43 260.5v6.0M131.76 260.5v1.9M135.08 260.5v1.9M138.41 260.5v1.9M141.73 260.5v1.9M145.06 260.5v1.9M148.39 260.5v3.0M151.71 260.5v1.9M155.04 260.5v1.9M158.37 260.5v1.9M161.69 260.5v1.9M165.02 260.5v1.9M168.34 260.5v4.6M171.67 260.5v1.9M175.00 260.5v1.9M178.32 260.5v1.9M181.65 260.5v1.9M184.98 260.5v1.9M188.30 260.5v3.0M191.63 260.5v1.9M194.95 260.5v1.9M198.28 260.5v1.9M201.61 260.5v1.9M204.93 260.5v1.9M208.26 260.5v6.0M211.59 260.5v1.9M214.91 260.5v1.9M218.24 260.5v1.9M221.56 260.5v1.9M224.89 260.5v1.9M228.22 260.5v3.0M231.54 260.5v1.9M234.87 260.5v1.9M238.20 260.5v1.9M241.52 260.5v1.9M244.85 260.5v1.9M248.18 260.5v4.6M251.50 260.5v1.9M254.83 260.5v1.9M258.15 260.5v1.9M261.48 260.5v1.9M264.81 260.5v1.9M268.13 260.5v3.0M271.46 260.5v1.9M274.78 260.5v1.9M278.11 260.5v1.9M281.44 260.5v1.9M284.76 260.5v1.9M288.09 260.5v6.0M291.42 260.5v1.9M294.74 260.5v1.9M298.07 260.5v1.9M301.39 260.5v1.9M304.72 260.5v1.9M308.05 260.5v3.0M311.37 260.5v1.9M314.70 260.5v1.9M318.03 260.5v1.9M321.35 260.5v1.9M324.68 260.5v1.9M328.01 260.5v4.6M331.33 260.5v1.9M334.66 260.5v1.9M337.98 260.5v1.9M341.31 260.5v1.9M344.64 260.5v1.9M347.96 260.5v3.0M351.29 260.5v1.9M354.62 260.5v1.9M357.94 260.5v1.9M361.27 260.5v1.9M364.59 260.5v1.9M367.92 260.5v6.0M371.25 260.5v1.9M374.57 260.5v1.9M377.90 260.5v1.9M381.23 260.5v1.9M384.55 260.5v1.9M387.88 260.5v3.0M391.20 260.5v1.9M394.53 260.5v1.9M397.86 260.5v1.9M401.18 260.5v1.9M404.51 260.5v1.9M407.83 260.5v4.6M411.16 260.5v1.9M414.49 260.5v1.9M417.81 260.5v1.9M421.14 260.5v1.9M424.47 260.5v1.9M427.79 260.5v3.0M431.12 260.5v1.9M434.45 260.5v1.9M437.77 260.5v1.9M441.10 260.5v1.9M444.42 260.5v1.9M447.75 260.5v6.0M451.08 260.5v1.9M454.40 260.5v1.9M457.73 260.5v1.9M461.06 260.5v1.9M464.38 260.5v1.9M467.71 260.5v3.0M471.03 260.5v1.9M474.36 260.5v1.9M477.69 260.5v1.9M481.01 260.5v1.9M484.34 260.5v1.9M487.67 260.5v4.6M490.99 260.5v1.9M494.32 260.5v1.9M497.64 260.5v1.9M500.97 260.5v1.9M504.30 260.5v1.9M507.62 260.5v3.0M510.95 260.5v1.9M514.27 260.5v1.9M517.60 260.5v1.9M520.93 260.5v1.9M524.25 260.5v1.9M527.58 260.5v6.0M530.91 260.5v1.9M534.23 260.5v1.9M537.56 260.5v1.9M540.88 260.5v1.9M544.21 260.5v1.9M547.54 260.5v3.0M550.86 260.5v1.9M554.19 260.5v1.9M557.52 260.5v1.9M560.84 260.5v1.9M564.17 260.5v1.9M567.50 260.5v4.6" stroke="#2a2a2a" stroke-width="0.65" fill="none"/>
<path d="M48.6 301.8H568.1" stroke="#7f7f7f" stroke-width="0.9" fill="none"/>
<path d="M48.60 301.8v6.0M51.93 301.8v1.9M55.25 301.8v1.9M58.58 301.8v1.9M61.91 301.8v1.9M65.23 301.8v1.9M68.56 301.8v3.0M71.88 301.8v1.9M75.21 301.8v1.9M78.54 301.8v1.9M81.86 301.8v1.9M85.19 301.8v1.9M88.52 301.8v4.6M91.84 301.8v1.9M95.17 301.8v1.9M98.49 301.8v1.9M101.82 301.8v1.9M105.15 301.8v1.9M108.47 301.8v3.0M111.80 301.8v1.9M115.12 301.8v1.9M118.45 301.8v1.9M121.78 301.8v1.9M125.10 301.8v1.9M128.43 301.8v6.0M131.76 301.8v1.9M135.08 301.8v1.9M138.41 301.8v1.9M141.73 301.8v1.9M145.06 301.8v1.9M148.39 301.8v3.0M151.71 301.8v1.9M155.04 301.8v1.9M158.37 301.8v1.9M161.69 301.8v1.9M165.02 301.8v1.9M168.34 301.8v4.6M171.67 301.8v1.9M175.00 301.8v1.9M178.32 301.8v1.9M181.65 301.8v1.9M184.98 301.8v1.9M188.30 301.8v3.0M191.63 301.8v1.9M194.95 301.8v1.9M198.28 301.8v1.9M201.61 301.8v1.9M204.93 301.8v1.9M208.26 301.8v6.0M211.59 301.8v1.9M214.91 301.8v1.9M218.24 301.8v1.9M221.56 301.8v1.9M224.89 301.8v1.9M228.22 301.8v3.0M231.54 301.8v1.9M234.87 301.8v1.9M238.20 301.8v1.9M241.52 301.8v1.9M244.85 301.8v1.9M248.18 301.8v4.6M251.50 301.8v1.9M254.83 301.8v1.9M258.15 301.8v1.9M261.48 301.8v1.9M264.81 301.8v1.9M268.13 301.8v3.0M271.46 301.8v1.9M274.78 301.8v1.9M278.11 301.8v1.9M281.44 301.8v1.9M284.76 301.8v1.9M288.09 301.8v6.0M291.42 301.8v1.9M294.74 301.8v1.9M298.07 301.8v1.9M301.39 301.8v1.9M304.72 301.8v1.9M308.05 301.8v3.0M311.37 301.8v1.9M314.70 301.8v1.9M318.03 301.8v1.9M321.35 301.8v1.9M324.68 301.8v1.9M328.01 301.8v4.6M331.33 301.8v1.9M334.66 301.8v1.9M337.98 301.8v1.9M341.31 301.8v1.9M344.64 301.8v1.9M347.96 301.8v3.0M351.29 301.8v1.9M354.62 301.8v1.9M357.94 301.8v1.9M361.27 301.8v1.9M364.59 301.8v1.9M367.92 301.8v6.0M371.25 301.8v1.9M374.57 301.8v1.9M377.90 301.8v1.9M381.23 301.8v1.9M384.55 301.8v1.9M387.88 301.8v3.0M391.20 301.8v1.9M394.53 301.8v1.9M397.86 301.8v1.9M401.18 301.8v1.9M404.51 301.8v1.9M407.83 301.8v4.6M411.16 301.8v1.9M414.49 301.8v1.9M417.81 301.8v1.9M421.14 301.8v1.9M424.47 301.8v1.9M427.79 301.8v3.0M431.12 301.8v1.9M434.45 301.8v1.9M437.77 301.8v1.9M441.10 301.8v1.9M444.42 301.8v1.9M447.75 301.8v6.0M451.08 301.8v1.9M454.40 301.8v1.9M457.73 301.8v1.9M461.06 301.8v1.9M464.38 301.8v1.9M467.71 301.8v3.0M471.03 301.8v1.9M474.36 301.8v1.9M477.69 301.8v1.9M481.01 301.8v1.9M484.34 301.8v1.9M487.67 301.8v4.6M490.99 301.8v1.9M494.32 301.8v1.9M497.64 301.8v1.9M500.97 301.8v1.9M504.30 301.8v1.9M507.62 301.8v3.0M510.95 301.8v1.9M514.27 301.8v1.9M517.60 301.8v1.9M520.93 301.8v1.9M524.25 301.8v1.9M527.58 301.8v6.0M530.91 301.8v1.9M534.23 301.8v1.9M537.56 301.8v1.9M540.88 301.8v1.9M544.21 301.8v1.9M547.54 301.8v3.0M550.86 301.8v1.9M554.19 301.8v1.9M557.52 301.8v1.9M560.84 301.8v1.9M564.17 301.8v1.9M567.50 301.8v4.6" stroke="#2a2a2a" stroke-width="0.65" fill="none"/>
<line x1="49.0" y1="25.049999999999997" x2="49.0" y2="53.25" stroke="#898989" stroke-width="0.9"/>
<g stroke="#2a2a2a" stroke-width="0.65" fill="none">
<line x1="42.4" y1="52.90" x2="49.0" y2="52.90"/>
<line x1="45.9" y1="48.32" x2="49.0" y2="48.32"/>
<line x1="42.4" y1="43.73" x2="49.0" y2="43.73"/>
<line x1="45.9" y1="39.15" x2="49.0" y2="39.15"/>
<line x1="42.4" y1="34.57" x2="49.0" y2="34.57"/>
<line x1="45.9" y1="29.98" x2="49.0" y2="29.98"/>
<line x1="42.4" y1="25.40" x2="49.0" y2="25.40"/>
</g>
<g fill="#000" stroke="#000" stroke-width="0.2" font-weight="bold" font-size="7.5" text-anchor="end">
<text x="39.6" y="55.50">0</text>
<text x="39.6" y="46.33">20</text>
<text x="39.6" y="37.17">40</text>
<text x="39.6" y="28.00">60</text>
</g>
<line x1="49.0" y1="62.949999999999996" x2="49.0" y2="94.94999999999999" stroke="#898989" stroke-width="0.9"/>
<g stroke="#2a2a2a" stroke-width="0.65" fill="none">
<line x1="42.4" y1="94.60" x2="49.0" y2="94.60"/>
<line x1="42.4" y1="88.34" x2="49.0" y2="88.34"/>
<line x1="42.4" y1="82.08" x2="49.0" y2="82.08"/>
<line x1="42.4" y1="75.82" x2="49.0" y2="75.82"/>
<line x1="42.4" y1="69.56" x2="49.0" y2="69.56"/>
<line x1="42.4" y1="63.30" x2="49.0" y2="63.30"/>
</g>
<g fill="#000" stroke="#000" stroke-width="0.2" font-weight="bold" font-size="7.5" text-anchor="end">
<text x="39.6" y="97.20">0.0</text>
<text x="39.6" y="90.94">0.2</text>
<text x="39.6" y="84.68">0.4</text>
<text x="39.6" y="78.42">0.6</text>
<text x="39.6" y="72.16">0.8</text>
<text x="39.6" y="65.90">1.0</text>
</g>
<line x1="49.0" y1="107.95" x2="49.0" y2="136.25" stroke="#6b9149" stroke-width="0.9"/>
<g stroke="#47761c" stroke-width="0.65" fill="none">
<line x1="42.4" y1="135.90" x2="49.0" y2="135.90"/>
<line x1="45.9" y1="132.45" x2="49.0" y2="132.45"/>
<line x1="42.4" y1="129.00" x2="49.0" y2="129.00"/>
<line x1="45.9" y1="125.55" x2="49.0" y2="125.55"/>
<line x1="42.4" y1="122.10" x2="49.0" y2="122.10"/>
<line x1="45.9" y1="118.65" x2="49.0" y2="118.65"/>
<line x1="42.4" y1="115.20" x2="49.0" y2="115.20"/>
<line x1="45.9" y1="111.75" x2="49.0" y2="111.75"/>
<line x1="42.4" y1="108.30" x2="49.0" y2="108.30"/>
</g>
<g fill="#47761c" stroke="#47761c" stroke-width="0.2" font-weight="bold" font-size="7.5" text-anchor="end">
<text x="39.6" y="138.50">0</text>
<text x="39.6" y="131.60">100</text>
<text x="39.6" y="124.70">200</text>
<text x="39.6" y="117.80">300</text>
<text x="39.6" y="110.90">400</text>
</g>
<line x1="49.0" y1="149.35" x2="49.0" y2="177.75" stroke="#cfdf57" stroke-width="0.9"/>
<g stroke="#c3d82e" stroke-width="0.65" fill="none">
<line x1="42.4" y1="177.40" x2="49.0" y2="177.40"/>
<line x1="42.4" y1="170.47" x2="49.0" y2="170.47"/>
<line x1="42.4" y1="163.55" x2="49.0" y2="163.55"/>
<line x1="42.4" y1="156.62" x2="49.0" y2="156.62"/>
<line x1="42.4" y1="149.70" x2="49.0" y2="149.70"/>
</g>
<g fill="#c3d82e" stroke="#c3d82e" stroke-width="0.2" font-weight="bold" font-size="7.5" text-anchor="end">
<text x="39.6" y="180.00">0</text>
<text x="39.6" y="173.07">50</text>
<text x="39.6" y="166.15">100</text>
<text x="39.6" y="159.22">150</text>
<text x="39.6" y="152.30">200</text>
</g>
<line x1="49.0" y1="190.95000000000002" x2="49.0" y2="219.35" stroke="#898989" stroke-width="0.9"/>
<g stroke="#2a2a2a" stroke-width="0.65" fill="none">
<line x1="42.4" y1="219.00" x2="49.0" y2="219.00"/>
<line x1="45.9" y1="214.38" x2="49.0" y2="214.38"/>
<line x1="42.4" y1="209.77" x2="49.0" y2="209.77"/>
<line x1="45.9" y1="205.15" x2="49.0" y2="205.15"/>
<line x1="42.4" y1="200.53" x2="49.0" y2="200.53"/>
<line x1="45.9" y1="195.92" x2="49.0" y2="195.92"/>
<line x1="42.4" y1="191.30" x2="49.0" y2="191.30"/>
</g>
<g fill="#000" stroke="#000" stroke-width="0.2" font-weight="bold" font-size="7.5" text-anchor="end">
<text x="39.6" y="221.60">0</text>
<text x="39.6" y="212.37">40</text>
<text x="39.6" y="203.13">80</text>
<text x="39.6" y="193.90">120</text>
</g>
<line x1="49.0" y1="232.45000000000002" x2="49.0" y2="260.85" stroke="#f79f7b" stroke-width="0.9"/>
<g stroke="#f5875a" stroke-width="0.65" fill="none">
<line x1="42.4" y1="260.50" x2="49.0" y2="260.50"/>
<line x1="42.4" y1="253.57" x2="49.0" y2="253.57"/>
<line x1="42.4" y1="246.65" x2="49.0" y2="246.65"/>
<line x1="42.4" y1="239.73" x2="49.0" y2="239.73"/>
<line x1="42.4" y1="232.80" x2="49.0" y2="232.80"/>
</g>
<g fill="#f5875a" stroke="#f5875a" stroke-width="0.2" font-weight="bold" font-size="7.5" text-anchor="end">
<text x="39.6" y="263.10">0</text>
<text x="39.6" y="256.18">100</text>
<text x="39.6" y="249.25">200</text>
<text x="39.6" y="242.33">300</text>
<text x="39.6" y="235.40">400</text>
</g>
<line x1="49.0" y1="273.84999999999997" x2="49.0" y2="302.15000000000003" stroke="#898989" stroke-width="0.9"/>
<g stroke="#2a2a2a" stroke-width="0.65" fill="none">
<line x1="42.4" y1="301.80" x2="49.0" y2="301.80"/>
<line x1="42.4" y1="294.90" x2="49.0" y2="294.90"/>
<line x1="42.4" y1="288.00" x2="49.0" y2="288.00"/>
<line x1="42.4" y1="281.10" x2="49.0" y2="281.10"/>
<line x1="42.4" y1="274.20" x2="49.0" y2="274.20"/>
</g>
<g fill="#000" stroke="#000" stroke-width="0.2" font-weight="bold" font-size="7.5" text-anchor="end">
<text x="39.6" y="304.40">0</text>
<text x="39.6" y="297.50">1</text>
<text x="39.6" y="290.60">2</text>
<text x="39.6" y="283.70">3</text>
<text x="39.6" y="276.80">4</text>
</g>
<line x1="567.8" y1="107.95" x2="567.8" y2="136.25" stroke="#898989" stroke-width="0.9"/>
<g stroke="#2a2a2a" stroke-width="0.65" fill="none">
<line x1="567.8" y1="135.90" x2="574.1999999999999" y2="135.90"/>
<line x1="567.8" y1="131.30" x2="570.8" y2="131.30"/>
<line x1="567.8" y1="126.70" x2="574.1999999999999" y2="126.70"/>
<line x1="567.8" y1="122.10" x2="570.8" y2="122.10"/>
<line x1="567.8" y1="117.50" x2="574.1999999999999" y2="117.50"/>
<line x1="567.8" y1="112.90" x2="570.8" y2="112.90"/>
<line x1="567.8" y1="108.30" x2="574.1999999999999" y2="108.30"/>
</g>
<g fill="#000" stroke="#000" stroke-width="0.2" font-weight="bold" font-size="7.5" text-anchor="start">
<text x="577.9" y="138.50">0</text>
<text x="577.9" y="129.30">100</text>
<text x="577.9" y="120.10">200</text>
<text x="577.9" y="110.90">300</text>
</g>
<line x1="567.8" y1="149.35" x2="567.8" y2="177.75" stroke="#898989" stroke-width="0.9"/>
<g stroke="#2a2a2a" stroke-width="0.65" fill="none">
<line x1="567.8" y1="177.40" x2="574.1999999999999" y2="177.40"/>
<line x1="567.8" y1="170.47" x2="574.1999999999999" y2="170.47"/>
<line x1="567.8" y1="163.55" x2="574.1999999999999" y2="163.55"/>
<line x1="567.8" y1="156.62" x2="574.1999999999999" y2="156.62"/>
<line x1="567.8" y1="149.70" x2="574.1999999999999" y2="149.70"/>
</g>
<g fill="#2a2a2a" stroke="#2a2a2a" stroke-width="0" font-weight="normal" font-size="7.5" text-anchor="start">
<text x="577.9" y="180.00">0</text>
<text x="577.9" y="173.07">2</text>
<text x="577.9" y="166.15">4</text>
<text x="577.9" y="159.22">6</text>
<text x="577.9" y="152.30">8</text>
</g>
<line x1="567.8" y1="190.95000000000002" x2="567.8" y2="219.35" stroke="#9d9dff" stroke-width="0.9"/>
<g stroke="#8585ff" stroke-width="0.65" fill="none">
<line x1="567.8" y1="219.00" x2="574.1999999999999" y2="219.00"/>
<line x1="567.8" y1="213.46" x2="574.1999999999999" y2="213.46"/>
<line x1="567.8" y1="207.92" x2="574.1999999999999" y2="207.92"/>
<line x1="567.8" y1="202.38" x2="574.1999999999999" y2="202.38"/>
<line x1="567.8" y1="196.84" x2="574.1999999999999" y2="196.84"/>
<line x1="567.8" y1="191.30" x2="574.1999999999999" y2="191.30"/>
</g>
<g fill="#8585ff" stroke="#8585ff" stroke-width="0.2" font-weight="bold" font-size="7.5" text-anchor="start">
<text x="577.9" y="221.60">0.0</text>
<text x="577.9" y="216.06">0.2</text>
<text x="577.9" y="210.52">0.4</text>
<text x="577.9" y="204.98">0.6</text>
<text x="577.9" y="199.44">0.8</text>
<text x="577.9" y="193.90">1.0</text>
</g>
<line x1="567.8" y1="232.65" x2="567.8" y2="260.85" stroke="#6b9149" stroke-width="0.9"/>
<g stroke="#47761c" stroke-width="0.65" fill="none">
<line x1="567.8" y1="260.50" x2="574.1999999999999" y2="260.50"/>
<line x1="567.8" y1="256.58" x2="570.8" y2="256.58"/>
<line x1="567.8" y1="252.67" x2="574.1999999999999" y2="252.67"/>
<line x1="567.8" y1="248.75" x2="570.8" y2="248.75"/>
<line x1="567.8" y1="244.83" x2="574.1999999999999" y2="244.83"/>
<line x1="567.8" y1="240.92" x2="570.8" y2="240.92"/>
<line x1="567.8" y1="237.00" x2="574.1999999999999" y2="237.00"/>
<line x1="567.8" y1="233.08" x2="570.8" y2="233.08"/>
</g>
<g fill="#47761c" stroke="#47761c" stroke-width="0.2" font-weight="bold" font-size="7.5" text-anchor="start">
<text x="577.9" y="263.10">0</text>
<text x="577.9" y="255.27">1000</text>
<text x="577.9" y="247.43">2000</text>
<text x="577.9" y="239.60">3000</text>
</g>
<line x1="567.8" y1="273.84999999999997" x2="567.8" y2="302.15000000000003" stroke="#b96954" stroke-width="0.9"/>
<g stroke="#a8442a" stroke-width="0.65" fill="none">
<line x1="567.8" y1="301.80" x2="574.1999999999999" y2="301.80"/>
<line x1="567.8" y1="297.20" x2="570.8" y2="297.20"/>
<line x1="567.8" y1="292.60" x2="574.1999999999999" y2="292.60"/>
<line x1="567.8" y1="288.00" x2="570.8" y2="288.00"/>
<line x1="567.8" y1="283.40" x2="574.1999999999999" y2="283.40"/>
<line x1="567.8" y1="278.80" x2="570.8" y2="278.80"/>
<line x1="567.8" y1="274.20" x2="574.1999999999999" y2="274.20"/>
</g>
<g fill="#a8442a" stroke="#a8442a" stroke-width="0.2" font-weight="bold" font-size="7.5" text-anchor="start">
<text x="577.9" y="304.40">0</text>
<text x="577.9" y="295.20">100</text>
<text x="577.9" y="286.00">200</text>
<text x="577.9" y="276.80">300</text>
</g>
<path d="M48.9 45.1 L50.4 46.6 L52.6 48.0 L55.5 49.2 L58.4 49.6 L61.3 49.2 L62.8 48.2 L64.2 48.9 L67.2 50.4 L73.0 50.9 L78.8 50.9 L84.7 50.7 L90.5 50.7 L97.1 50.4" fill="none" stroke="#f5a030" stroke-width="1.0" stroke-linejoin="round" />
<path d="M177.3 47.7 L178.8 48.6 L181.1 48.2 L183.4 46.6 L184.9 46.2 L186.4 47.7 L188.7 50.1 L191.7 50.9 L199.3 50.9 L206.9 50.4 L214.5 50.4 L217.5 49.7 L220.6 50.4 L232.7 50.9 L241.8 50.4 L247.9 50.1 L252.5 49.7 L255.5 49.2 L258.5 48.2 L261.6 46.6 L263.8 46.2 L265.4 46.6 L266.9 48.9 L269.2 50.1 L272.0 50.9 L281.1 50.7 L287.2 50.4 L293.3 50.1 L296.3 49.2 L298.6 47.7 L300.1 46.2 L301.6 48.2 L303.1 50.4 L306.9 51.2 L317.5 50.9 L338.8 50.9 L341.1 50.1 L343.4 49.7 L345.6 50.4 L350.9 51.2 L366.1 50.9 L369.2 50.1 L371.4 49.7 L372.0 50.1 L375.0 49.2 L378.1 49.7 L381.1 50.4 L387.2 51.2 L402.4 50.9 L408.4 50.1 L413.0 48.2 L416.0 46.2 L419.1 46.6 L421.3 48.2 L423.6 50.4 L429.7 51.2 L447.9 51.2 L454.0 50.1 L457.8 49.7 L461.6 50.4 L467.6 50.9 L468.0 50.7 L477.1 50.4 L480.9 49.7 L484.7 50.4 L498.4 51.2 L513.5 51.2 L519.6 50.7 L528.7 50.4 L533.3 50.1 L537.8 50.7 L546.9 51.2 L565.5 51.6" fill="none" stroke="#f5a030" stroke-width="1.0" stroke-linejoin="round" />
<path d="M48.9 50.9 L58.4 50.9 L62.8 49.2 L64.2 50.7 L97.1 51.4" fill="none" stroke="#2222ff" stroke-width="1.0" stroke-linejoin="round" />
<path d="M177.3 51.6 L187.2 52.0 L214.5 51.6 L217.5 50.4 L220.6 51.2 L232.7 52.0 L250.9 51.2 L257.0 50.1 L260.1 49.2 L263.8 48.9 L266.1 50.4 L269.2 51.6 L272.0 52.0 L293.3 52.0 L297.8 51.2 L300.8 50.4 L303.1 51.6 L317.5 52.0 L338.8 52.0 L343.4 51.2 L347.9 52.0 L369.2 52.0 L371.4 51.6 L372.0 51.6 L414.5 52.0 L417.5 50.4 L420.6 52.0 L467.6 52.0 L468.0 52.0 L537.8 52.0 L540.9 50.4 L543.9 52.0 L565.5 52.0" fill="none" stroke="#2222ff" stroke-width="1.0" stroke-linejoin="round" />
<path d="M48.9 49.9 L58.4 50.4 L62.0 49.2 L63.5 48.8 L65.0 49.9 L70.1 50.7 L78.8 50.7 L87.6 50.4 L97.1 49.9" fill="none" stroke="#ff1a0a" stroke-width="1.1" stroke-linejoin="round" />
<path d="M177.3 50.4 L181.1 49.7 L184.1 49.2 L187.2 50.4 L202.4 50.9 L217.5 50.1 L232.7 50.9 L247.9 50.1 L257.0 49.7 L263.1 48.6 L266.1 49.2 L269.2 50.4 L272.0 50.7 L287.2 50.7 L296.3 50.1 L300.1 49.2 L302.4 50.4 L317.5 50.7 L332.7 50.7 L341.8 50.4 L350.9 50.9 L363.1 50.9 L371.4 50.4 L372.0 50.4 L387.2 51.2 L397.8 50.4 L410.0 50.4 L417.5 49.7 L423.6 50.7 L432.7 51.2 L450.9 51.2 L457.0 50.4 L463.1 50.9 L467.6 50.7 L468.0 50.9 L480.1 50.1 L487.7 50.7 L513.5 50.9 L528.7 50.4 L534.8 50.1 L540.9 50.9 L565.5 51.5" fill="none" stroke="#ff1a0a" stroke-width="1.1" stroke-linejoin="round" />
<path d="M48.9 46.7 L50.4 49.2 L52.6 50.7 L58.4 51.4 L62.8 49.9 L64.2 50.7 L67.2 51.7 L97.1 51.7" fill="none" stroke="#ff50f5" stroke-width="1.0" stroke-linejoin="round" />
<path d="M177.3 51.2 L180.3 50.4 L182.6 49.2 L184.1 49.7 L185.7 51.2 L188.7 52.0 L213.0 52.0 L215.3 50.4 L217.2 47.7 L218.8 47.1 L220.3 48.2 L221.8 50.4 L223.6 51.6 L232.7 52.0 L247.9 51.6 L254.0 51.2 L256.3 49.7 L257.3 44.4 L258.5 39.0 L259.4 38.6 L260.4 41.3 L261.3 46.6 L263.1 48.6 L264.9 49.2 L266.9 51.2 L269.2 52.0 L272.0 52.0 L294.8 52.0 L297.0 51.2 L299.0 49.7 L300.5 48.2 L302.1 50.1 L303.6 51.6 L306.9 52.0 L338.0 52.0 L339.6 50.4 L341.1 46.6 L342.6 43.6 L343.4 42.1 L344.3 46.6 L345.2 50.4 L346.4 51.6 L350.9 52.0 L367.6 52.0 L368.9 49.7 L369.9 45.1 L370.7 43.1 L371.9 45.1 L373.5 48.9 L375.0 50.4 L377.3 51.2 L381.1 52.0 L406.9 52.0 L409.2 50.4 L411.5 48.2 L413.7 45.9 L415.3 43.6 L416.3 41.6 L417.5 44.4 L419.1 46.6 L421.3 49.2 L423.6 51.2 L426.7 52.0 L467.6 52.0 L468.0 52.0 L565.5 52.0" fill="none" stroke="#ff50f5" stroke-width="1.0" stroke-linejoin="round" />
<path d="M48.9 40.4 L51.1 40.1 L52.8 39.0 L54.3 36.8 L55.8 38.2 L57.7 39.7 L59.1 39.0 L60.6 37.8 L62.0 38.7 L63.1 41.9 L64.2 47.0 L65.7 48.5 L67.9 49.2 L70.1 49.2 L72.3 49.9 L74.5 50.4 L76.6 50.7 L78.8 50.4 L80.3 48.5 L81.8 45.5 L83.5 42.6 L85.4 43.1 L87.6 41.9 L89.1 42.6 L90.8 45.5 L92.3 46.0 L94.2 44.1 L95.6 45.5 L97.1 45.5" fill="none" stroke="#000" stroke-width="0.95" stroke-linejoin="round" />
<path d="M177.3 44.4 L178.8 44.1 L180.3 45.1 L182.6 47.1 L184.9 48.6 L187.2 50.1 L190.2 50.9 L194.8 50.9 L197.8 50.1 L200.1 48.2 L202.4 45.9 L204.6 44.4 L206.6 42.8 L208.1 41.0 L209.2 42.8 L210.7 45.9 L212.2 47.7 L214.5 46.6 L216.8 45.1 L218.3 44.7 L219.8 46.2 L222.1 48.6 L224.4 49.7 L228.2 50.1 L232.7 50.4 L235.8 50.1 L238.8 49.7 L240.3 48.2 L241.8 47.1 L244.1 46.6 L246.4 45.9 L247.9 46.6" fill="none" stroke="#000" stroke-width="0.95" stroke-linejoin="round" />
<path d="M278.8 49.7 L281.1 48.2 L283.4 46.2 L285.7 45.1 L287.2 43.6 L288.7 44.4 L290.2 43.6 L291.7 45.1 L293.3 46.6 L294.8 46.2 L297.0 45.1 L299.3 44.7 L300.8 45.9 L302.4 48.2 L304.6 50.1 L307.7 50.9 L311.5 50.4 L315.3 50.4 L317.5 50.4 L319.4 49.2 L321.3 47.4 L323.6 45.6 L325.9 44.1 L327.9 42.8 L329.1 42.1 L330.4 44.4 L332.0 46.2 L333.5 44.4 L335.0 42.5 L336.5 42.1 L338.8 41.6 L341.1 42.5 L343.0 44.4 L344.6 46.6 L346.4 48.9 L348.7 50.1 L351.7 50.7 L354.7 50.1 L357.0 49.7 L359.3 48.2 L361.6 46.2 L363.8 45.1 L366.1 45.6 L368.4 44.4 L370.4 42.5 L371.9 41.3 L373.5 43.6 L375.3 45.9 L378.1 46.2 L380.3 45.9 L381.9 46.6 L384.1 49.2 L386.4 50.7 L390.2 50.7 L394.8 50.4 L397.8 49.7 L400.1 47.7 L402.4 46.2 L404.6 45.6 L406.9 45.1 L409.2 45.9 L411.2 46.6 L413.0 45.9 L415.3 44.4 L416.8 45.1 L418.3 46.2 L420.6 47.1 L422.9 48.9 L425.1 50.4 L429.7 50.9 L434.2 50.9 L437.3 50.4 L439.6 48.6 L441.5 46.2 L443.4 45.9 L445.2 46.6 L446.7 43.6 L447.9 42.5 L449.1 45.1 L450.9 45.9 L453.2 44.4 L455.5 44.1 L457.8 42.8 L459.7 42.1 L461.3 43.6 L462.3 48.2 L463.4 50.1 L466.1 50.9 L468.0 50.1 L472.6 50.4 L475.6 49.7 L478.6 48.2 L481.7 46.6 L483.9 45.1 L485.9 43.1 L487.7 42.5 L489.6 43.6 L491.5 46.2 L493.8 48.9 L496.1 50.1 L499.1 49.7 L502.2 48.9 L504.4 48.6 L506.7 49.7 L510.5 50.1 L515.1 50.4 L518.1 49.7 L520.4 48.2 L522.3 47.7 L524.2 46.6 L525.7 45.1 L526.9 43.1 L527.7 41.3 L528.7 45.1 L530.2 45.1 L531.8 44.1 L533.3 44.4 L534.8 47.1 L536.6 49.7 L538.6 48.9 L540.6 48.6 L542.4 50.4 L545.4 50.9 L550.0 50.9 L553.0 51.6 L556.1 52.0 L559.1 50.9 L562.1 50.4 L565.5 50.4" fill="none" stroke="#000" stroke-width="0.95" stroke-linejoin="round" />
<path d="M48.9 30.5 L51.8 32.1 L55.5 34.2 L59.1 36.1 L61.0 32.4 L62.5 27.6 L63.8 29.1 L65.0 37.5 L66.0 43.4 L67.4 41.9 L68.6 43.1 L70.1 42.2 L71.5 44.8 L73.7 46.7 L75.9 48.0 L78.1 48.5 L80.0 47.0 L81.8 43.4 L83.9 37.5 L85.4 32.4 L86.9 35.3 L88.3 34.9 L89.8 36.1 L91.2 39.0 L93.4 42.6 L94.9 42.2 L97.1 41.2" fill="none" stroke="#3dff05" stroke-width="1.15" stroke-linejoin="round" />
<path d="M177.3 43.6 L179.6 42.8 L181.4 42.5 L183.4 41.0 L184.9 42.8 L187.2 45.9 L189.5 48.6 L191.7 49.7 L194.8 49.7 L197.0 49.2 L199.3 46.6 L201.6 42.8 L203.9 39.0 L206.2 37.1 L208.4 36.5 L210.0 36.5 L211.2 39.8 L212.7 43.6 L215.3 44.1 L217.5 43.1 L219.8 42.8 L222.1 44.4 L224.4 46.2 L227.4 47.4 L230.4 47.7 L232.7 47.1 L235.0 45.9 L237.3 45.6 L239.6 44.4 L241.1 42.1 L242.6 38.3 L244.6 35.0 L246.1 34.2 L247.6 36.0 L249.4 38.0 L250.9 38.3 L252.5 39.8 L254.7 42.1 L257.0 41.3 L258.8 39.0 L260.8 37.5 L263.1 38.0 L264.9 36.8 L266.4 38.3 L268.4 41.3 L270.7 43.6 L272.0 45.1 L273.8 45.9 L275.8 48.2 L277.3 48.6 L278.8 46.6 L280.3 43.6 L281.9 40.6 L283.8 38.3 L286.0 37.2 L287.9 38.3 L289.9 39.5 L291.7 40.6 L294.0 42.1 L296.0 42.5 L297.8 41.6 L300.1 41.0 L302.1 40.6 L303.9 42.1 L305.7 45.1 L307.7 48.2 L310.0 48.9 L312.2 48.6 L314.5 49.2 L316.8 49.7 L318.3 48.2 L319.8 45.1 L321.3 42.1 L323.6 39.0 L325.4 36.8 L327.0 36.5 L328.5 37.5 L330.4 39.0 L332.0 41.3 L333.5 42.1 L335.0 40.6 L336.5 41.0 L338.8 38.3 L340.6 36.5 L342.1 36.0 L343.7 38.3 L344.9 42.8 L346.4 45.9 L347.9 46.6 L350.2 46.2 L352.5 48.2 L354.7 46.6 L357.0 46.2 L359.3 44.4 L361.6 39.8 L363.1 36.0 L364.6 33.7 L366.1 34.5 L367.9 36.8 L369.9 39.8 L371.9 41.0 L373.8 43.1 L375.8 44.4 L378.1 43.6 L379.9 40.6 L381.9 39.0 L383.4 41.0 L385.4 45.1 L387.2 48.2 L389.0 49.2 L391.0 48.2 L393.3 48.2 L395.5 46.6 L397.8 45.1 L400.1 42.1 L402.1 39.0 L403.9 36.8 L405.7 37.1 L407.2 39.0 L409.2 40.1 L411.2 42.1 L413.0 42.5 L414.8 41.6 L416.8 41.3 L419.1 41.6 L420.9 40.1 L422.4 42.1 L424.4 44.4 L426.7 46.2 L428.9 47.4 L431.2 48.2 L433.5 48.2 L435.8 47.4 L438.0 46.6 L439.6 44.4 L441.1 41.3 L443.0 38.3 L444.9 37.1 L446.7 38.3 L448.7 39.0 L450.9 38.6 L453.2 38.0 L455.2 38.3 L457.0 36.8 L458.8 35.3 L460.4 31.9 L461.6 29.9 L462.5 33.7 L463.4 40.6 L464.6 45.1 L466.4 47.1 L468.4 48.2 L470.3 47.7 L472.6 48.6 L474.8 47.1 L477.1 45.1 L479.4 42.8 L481.4 39.8 L483.2 39.0 L485.0 38.3 L486.5 35.3 L488.0 34.0 L489.6 36.0 L491.1 39.8 L493.0 43.6 L495.0 46.6 L497.1 48.2 L499.1 47.7 L501.1 45.9 L502.9 44.4 L505.2 45.1 L507.2 45.6 L509.3 44.4 L511.3 45.9 L513.5 46.6 L515.8 46.2 L517.8 45.1 L519.6 42.8 L521.4 39.8 L523.0 38.0 L524.9 37.5 L526.4 36.0 L528.0 35.6 L530.2 35.3 L531.8 34.5 L533.3 34.2 L534.5 36.8 L535.6 42.1 L537.1 46.6 L539.0 48.2 L540.9 45.9 L542.7 45.6 L544.7 46.6 L546.6 45.9 L548.5 47.7 L550.7 50.1 L553.0 51.6 L555.3 52.0 L557.6 50.1 L559.1 47.7 L560.6 48.2 L562.1 49.7 L563.6 47.7 L565.5 47.1" fill="none" stroke="#3dff05" stroke-width="1.15" stroke-linejoin="round" />
<path d="M48.9 260.3 L56.9 260.2 L59.1 259.2 L61.3 256.3 L63.5 251.9 L65.7 246.8 L67.9 241.7 L69.8 237.3 L70.8 241.0 L71.8 248.3 L73.0 254.8 L74.2 258.5 L75.6 260.0 L78.8 260.3 L87.6 260.2 L93.4 260.2 L96.4 259.7 L98.5 258.5 L101.5 257.0" fill="none" stroke="#5d7a14" stroke-width="1.1" stroke-linejoin="round" />
<path d="M177.3 260.3 L179.6 258.2 L181.1 254.4 L182.6 249.8 L184.1 246.5 L186.0 244.5 L187.9 244.0 L189.9 245.3 L191.4 248.0 L192.6 252.1 L193.9 256.6 L195.1 259.7 L197.0 260.3 L213.0 260.1 L216.0 259.7 L218.3 258.2 L220.3 255.6 L222.1 252.5 L223.9 249.0 L225.9 246.0 L227.4 244.0 L228.9 246.0 L230.9 248.3 L232.4 251.3 L233.6 255.1 L234.9 258.2 L236.5 260.0 L238.8 260.3 L254.0 260.1 L257.0 259.7 L259.3 257.7 L261.3 253.6 L262.8 249.0 L264.3 244.5 L265.8 241.9 L267.3 241.0 L268.9 241.9 L270.4 244.0 L271.6 246.8 L272.0 252.1 L273.2 256.6 L274.3 259.7 L276.6 260.3 L287.2 260.3 L294.8 260.1 L297.8 259.2 L300.1 256.6 L302.1 251.3 L303.6 245.3 L305.1 239.9 L306.6 238.0 L307.8 238.9 L309.0 243.0 L310.3 249.8 L311.5 255.9 L312.7 259.2 L314.2 258.6 L316.0 258.2 L317.5 259.2 L320.6 260.1 L332.7 260.3 L335.8 260.1 L338.0 258.9 L340.3 256.6 L342.6 253.6 L344.6 250.6 L346.4 248.0 L347.9 247.1 L349.4 248.3 L350.9 249.8 L352.2 254.4 L353.4 258.6 L354.7 260.1 L357.0 260.3 L371.4 260.3 L372.0 260.3 L376.6 259.7 L378.8 257.7 L380.8 253.6 L382.6 248.3 L384.4 243.0 L386.0 239.9 L387.2 239.2 L388.4 241.5 L389.5 246.8 L390.5 252.8 L391.7 257.4 L393.3 259.7 L395.5 260.3 L413.0 260.1 L416.8 259.2 L419.1 256.6 L420.9 251.3 L422.4 246.0 L423.9 241.9 L425.4 239.2 L427.0 238.4 L428.5 239.5 L430.0 242.2 L431.5 246.8 L432.7 252.8 L433.9 258.2 L435.5 260.1 L438.0 260.3 L454.0 260.3 L457.0 259.7 L459.3 255.9 L461.3 249.8 L463.1 243.7 L464.9 239.2 L466.4 236.9 L467.6 236.1 L468.0 236.1 L469.2 237.7 L470.1 243.7 L471.0 251.3 L472.3 256.2 L474.1 258.2 L476.3 259.7 L479.4 260.3 L490.8 260.3 L494.6 259.7 L497.6 258.2 L499.9 255.6 L502.2 252.1 L504.4 249.0 L506.0 246.8 L507.2 246.0 L508.4 248.3 L509.7 249.8 L511.3 252.8 L512.8 256.6 L514.3 259.2 L516.6 260.1 L525.7 260.3 L528.7 259.7 L531.8 260.1 L534.8 259.2 L537.8 257.7 L540.1 255.9 L542.4 253.6 L544.7 251.3 L546.9 249.0 L548.8 246.8 L550.0 245.3 L550.9 249.0 L552.1 254.4 L553.3 258.2 L554.8 259.7 L557.6 260.3 L565.5 260.3" fill="none" stroke="#5d7a14" stroke-width="1.1" stroke-linejoin="round" />
<path d="M48.9 133.6 L55.5 133.9 L61.3 133.9 L64.2 132.8 L66.0 130.7 L67.4 131.4 L68.9 129.9 L70.4 132.8 L73.0 133.9 L77.4 133.6 L81.0 132.4 L84.7 131.8 L87.6 132.1 L90.5 133.3 L94.2 133.9 L97.1 133.3" fill="none" stroke="#48e0d0" stroke-width="0.9" stroke-linejoin="round" />
<path d="M177.3 134.1 L179.6 132.6 L181.4 130.6 L183.4 130.2 L185.4 131.7 L187.2 132.9 L190.2 133.7 L194.8 133.7 L199.3 133.2 L203.9 133.2 L206.2 132.6 L208.4 133.7 L211.5 133.7 L214.5 133.2 L217.5 132.6 L219.8 132.2 L222.1 132.6 L224.4 133.2 L228.2 134.1 L232.7 134.1 L237.3 133.7 L241.8 133.7 L246.4 133.7 L250.9 133.7 L254.7 132.9 L257.0 131.4 L259.3 130.6 L261.6 130.2 L263.1 130.2 L264.9 131.7 L267.6 133.2 L271.4 133.7 L272.0 133.7 L276.6 133.7 L281.1 133.2 L285.7 132.9 L290.2 133.2 L294.8 133.7 L298.6 132.6 L300.8 130.6 L302.4 130.2 L304.2 131.4 L306.2 132.6 L308.4 131.4 L310.7 132.9 L313.7 134.1 L317.5 133.7 L322.1 133.2 L326.7 132.6 L331.2 133.2 L335.8 133.7 L339.6 132.6 L341.5 130.6 L343.0 129.6 L344.6 131.4 L347.1 133.7 L352.5 134.1 L357.0 133.7 L360.1 132.6 L363.1 132.2 L366.1 132.2 L368.4 131.1 L369.9 129.1 L371.4 130.6 L372.0 132.6 L376.6 133.7 L381.1 132.2 L384.1 133.2 L388.7 134.1 L393.3 134.1 L397.8 133.7 L402.4 132.6 L406.9 132.6 L411.5 131.7 L415.3 130.6 L418.3 130.2 L420.6 130.6 L422.9 129.9 L425.1 131.7 L428.2 133.2 L432.7 134.1 L437.3 134.1 L441.1 133.2 L444.9 132.6 L447.9 133.2 L452.5 134.1 L457.0 133.7 L461.6 132.2 L464.6 133.2 L467.6 134.1 L468.0 133.2 L472.6 134.1 L477.1 133.2 L481.7 132.2 L486.2 132.2 L490.8 133.2 L495.3 134.1 L499.9 133.7 L504.4 133.2 L509.0 133.7 L513.5 134.1 L518.1 133.2 L522.7 132.9 L527.2 133.2 L531.8 133.7 L536.3 134.1 L540.9 132.6 L544.7 132.2 L548.5 133.7 L553.0 134.4 L559.1 134.4 L565.5 134.1" fill="none" stroke="#48e0d0" stroke-width="0.9" stroke-linejoin="round" />
<path d="M48.9 128.9 L51.1 129.9 L53.3 130.9 L56.2 132.1 L59.1 131.8 L61.3 129.9 L62.8 127.7 L63.9 129.2 L65.4 132.1 L67.9 133.6 L71.5 134.3 L74.5 133.9 L76.6 132.4 L78.8 129.2 L81.0 127.4 L83.2 127.0 L86.1 127.7 L88.3 128.5 L90.5 130.7 L93.4 132.1 L97.1 130.9" fill="none" stroke="#f07878" stroke-width="0.9" stroke-linejoin="round" />
<path d="M177.3 131.4 L178.8 130.2 L180.3 129.6 L181.9 130.6 L184.1 132.6 L187.2 133.7 L191.7 134.1 L195.5 132.6 L197.8 130.2 L200.1 128.1 L202.4 127.1 L204.6 127.6 L206.9 128.4 L209.2 129.1 L211.5 129.1 L213.7 129.6 L216.0 130.2 L218.3 130.2 L220.6 129.6 L222.9 131.4 L225.1 133.2 L228.9 134.1 L232.7 134.4 L236.5 133.7 L238.8 132.6 L241.1 130.6 L243.4 129.1 L245.6 128.7 L247.9 129.1 L250.2 129.9 L252.5 130.6 L254.7 131.1 L257.0 130.6 L259.3 130.6 L261.6 130.6 L263.8 131.7 L266.9 133.2 L270.7 134.1 L272.0 134.1 L275.0 133.2 L278.1 131.1 L280.3 129.1 L282.3 128.1 L284.1 128.7 L286.4 129.6 L288.7 130.2 L291.7 129.9 L294.8 130.2 L297.8 129.9 L300.8 130.6 L303.9 132.6 L306.9 133.7 L310.0 134.1 L313.0 134.1 L315.3 132.6 L317.5 129.9 L319.8 128.1 L322.1 127.6 L324.4 128.1 L326.7 129.1 L329.7 129.9 L332.7 130.6 L335.8 131.1 L338.8 130.2 L341.1 129.1 L342.6 127.6 L344.1 129.9 L346.4 132.2 L349.4 133.7 L353.2 134.1 L356.3 132.2 L358.2 128.4 L360.1 126.5 L361.9 126.8 L363.8 127.6 L366.1 128.7 L368.4 129.6 L370.7 130.6 L372.0 130.6 L375.0 131.4 L378.1 130.6 L380.3 129.6 L382.6 130.6 L384.9 132.2 L388.7 133.2 L393.3 133.2 L396.3 131.7 L398.6 129.1 L400.5 127.1 L402.4 127.6 L404.6 128.7 L406.9 128.4 L409.2 129.1 L411.5 129.9 L414.5 130.2 L417.5 129.9 L420.6 130.6 L423.6 132.2 L426.7 133.2 L430.4 134.1 L434.2 134.1 L436.5 132.2 L438.5 128.4 L440.0 126.1 L441.8 126.1 L443.7 126.8 L446.4 127.6 L449.4 128.7 L452.5 129.6 L455.5 129.9 L458.5 129.1 L460.4 127.6 L461.6 126.1 L462.8 129.1 L464.6 132.2 L467.6 133.7 L468.0 134.1 L471.0 134.4 L474.1 133.7 L476.3 131.4 L478.6 129.1 L480.9 127.1 L483.2 126.5 L485.5 126.5 L487.7 127.1 L490.0 128.4 L492.0 130.6 L494.1 132.6 L496.8 132.9 L499.9 131.7 L502.9 131.1 L506.0 131.7 L509.0 132.6 L512.0 132.2 L514.3 130.2 L516.6 128.1 L518.9 126.8 L521.1 126.1 L523.4 126.5 L525.7 126.8 L528.0 127.1 L530.2 127.6 L532.5 128.7 L534.8 130.2 L537.1 131.7 L539.4 132.2 L542.4 131.7 L545.4 132.2 L548.5 133.2 L552.3 133.7 L555.3 133.2 L557.6 130.6 L559.1 129.9 L560.9 131.7 L562.9 130.2 L565.5 130.6" fill="none" stroke="#f07878" stroke-width="0.9" stroke-linejoin="round" />
<path d="M48.9 125.5 L50.4 127.0 L52.6 128.5 L54.7 129.2 L56.9 127.7 L59.1 125.5 L60.6 124.1 L62.0 125.5 L63.1 128.5 L64.2 131.4 L65.7 133.6 L67.9 134.3 L70.8 134.7 L73.7 135.0 L76.6 134.3 L78.8 131.4 L80.3 126.3 L81.8 119.0 L82.9 113.1 L83.9 111.4 L85.4 112.4 L86.4 115.3 L87.6 121.2 L89.1 127.7 L90.5 132.1 L92.7 133.9 L94.9 134.3 L97.1 133.6" fill="none" stroke="#47761c" stroke-width="0.95" stroke-linejoin="round" />
<path d="M177.3 132.2 L178.8 130.6 L180.3 129.6 L181.9 131.4 L184.1 133.2 L187.2 134.4 L191.7 134.9 L196.3 134.4 L198.6 132.9 L200.8 130.6 L203.1 126.8 L204.6 123.0 L206.2 121.1 L207.2 120.8 L208.4 123.0 L210.0 126.8 L211.5 130.6 L213.0 132.2 L215.3 131.7 L217.5 132.6 L219.8 132.2 L222.1 132.9 L224.4 134.1 L228.2 134.9 L232.7 135.2 L237.3 134.4 L239.6 134.1 L241.5 132.6 L243.4 130.2 L245.2 129.1 L247.1 130.6 L249.4 132.6 L251.7 134.1 L254.7 134.4 L257.0 133.7 L259.3 132.2 L261.6 132.9 L264.6 134.1 L269.2 134.9 L271.4 134.6 L272.0 134.4 L275.0 134.1 L278.1 132.2 L280.3 130.2 L282.6 127.6 L284.4 125.0 L286.0 123.5 L287.5 123.0 L289.0 124.6 L290.5 127.6 L292.5 129.6 L294.8 130.2 L297.0 131.1 L299.3 132.2 L302.4 133.2 L305.4 134.1 L309.2 134.9 L313.0 134.9 L316.0 133.7 L318.3 130.6 L320.3 127.1 L322.1 123.8 L323.6 122.3 L325.1 123.0 L326.7 122.6 L328.2 123.8 L330.0 125.3 L332.0 126.5 L334.2 127.1 L336.5 127.6 L338.0 126.5 L339.6 125.3 L341.1 127.6 L342.6 130.6 L344.9 132.6 L347.1 133.7 L350.2 134.4 L353.2 134.9 L355.5 134.4 L357.3 132.2 L359.3 126.8 L360.8 120.8 L362.3 115.0 L363.5 113.2 L364.9 114.7 L366.4 117.7 L367.9 123.0 L369.2 129.1 L370.7 132.2 L372.0 133.2 L375.0 133.7 L378.1 132.2 L380.3 129.9 L381.9 130.2 L384.1 132.6 L387.2 134.1 L391.7 134.9 L395.5 134.4 L397.8 132.6 L399.3 129.1 L400.8 123.8 L402.1 120.8 L403.3 120.8 L404.2 124.6 L405.7 128.4 L407.7 129.1 L410.0 130.6 L412.2 131.4 L414.5 131.7 L416.8 132.2 L419.1 132.6 L422.1 133.7 L425.1 134.4 L429.7 134.9 L434.2 134.9 L437.3 133.7 L439.6 130.6 L441.1 126.8 L442.6 120.8 L443.7 117.0 L444.9 115.9 L446.1 117.4 L447.6 119.3 L449.4 121.5 L450.9 124.6 L452.5 126.1 L454.7 125.6 L457.0 126.5 L458.8 125.6 L460.4 126.1 L461.6 129.1 L463.1 132.6 L465.4 134.1 L468.0 134.4 L471.0 134.9 L474.1 134.4 L477.1 133.2 L480.1 132.2 L482.4 130.6 L484.7 131.1 L487.0 131.4 L489.3 131.7 L491.5 132.9 L494.6 134.1 L498.4 134.4 L500.6 133.7 L502.9 132.9 L505.2 133.2 L507.5 134.1 L511.3 134.4 L514.3 133.7 L516.6 132.2 L518.9 130.6 L521.1 129.6 L523.0 129.1 L524.9 129.9 L527.2 130.2 L529.5 130.6 L531.8 131.7 L534.0 133.2 L537.1 134.1 L540.9 133.7 L543.9 133.7 L546.9 134.4 L550.7 134.9 L554.5 134.9 L556.1 133.2 L557.6 129.9 L558.8 129.1 L560.0 132.2 L561.4 132.9 L562.9 130.6 L564.4 129.9 L565.5 130.6" fill="none" stroke="#47761c" stroke-width="0.95" stroke-linejoin="round" />
<path d="M48.9 117.5 L50.4 119.0 L52.3 121.2 L54.0 123.1 L55.8 125.1 L57.2 127.0 L58.7 125.5 L60.1 123.4 L61.6 121.9 L63.5 121.6 L64.5 122.6 L65.7 126.3 L67.4 127.7 L69.3 128.5 L71.2 129.2 L73.0 129.9 L75.2 130.7 L77.4 130.4 L79.1 128.5 L80.6 124.8 L82.0 120.4 L83.5 117.5 L84.7 116.4 L85.8 116.1 L86.9 118.2 L88.3 121.9 L90.2 123.1 L92.0 124.1 L94.2 124.8 L95.6 124.5 L97.1 127.7" fill="none" stroke="#1414ff" stroke-width="1.2" stroke-linejoin="round" />
<path d="M177.3 126.5 L178.8 124.6 L180.3 120.0 L181.9 115.5 L182.9 118.5 L184.1 121.5 L185.4 122.3 L186.9 125.3 L188.7 128.4 L190.5 130.6 L192.5 132.2 L194.8 132.2 L197.0 131.1 L199.3 129.1 L201.6 127.1 L203.6 123.8 L205.1 121.5 L206.6 122.3 L208.1 124.6 L210.0 126.1 L211.8 127.6 L213.7 128.4 L215.3 127.6 L216.3 123.8 L217.5 120.0 L219.1 118.5 L220.6 120.0 L222.4 123.0 L224.4 125.3 L226.7 127.6 L228.9 129.1 L231.2 129.6 L233.5 128.4 L235.5 126.8 L237.3 125.3 L238.3 123.8 L239.6 126.1 L241.1 128.4 L243.0 127.6 L244.9 126.5 L247.1 126.1 L249.1 125.3 L250.9 126.1 L252.5 127.1 L254.7 126.1 L256.7 123.8 L258.2 120.8 L259.4 117.0 L260.4 114.7 L261.3 117.7 L262.8 121.5 L264.3 120.8 L265.8 122.0 L267.3 120.8 L268.9 121.5 L270.4 120.8 L271.4 121.7 L272.0 121.5 L273.5 120.8 L275.0 120.5 L276.6 122.0 L278.1 121.5 L279.6 122.3 L281.1 121.5 L282.6 122.0 L284.1 121.1 L285.7 122.0 L287.2 121.1 L288.7 121.5 L290.2 122.3 L291.7 123.0 L293.3 125.0 L294.8 125.3 L296.3 124.6 L297.8 121.5 L299.6 118.5 L301.6 116.5 L303.1 118.5 L304.6 120.8 L306.6 123.0 L308.4 123.8 L310.7 124.1 L313.0 125.0 L315.3 125.6 L317.5 125.0 L319.8 123.8 L321.8 122.0 L323.3 119.6 L324.4 122.0 L325.9 122.3 L327.4 121.5 L328.9 120.8 L330.4 123.0 L332.7 123.8 L335.0 125.3 L337.0 126.5 L338.5 125.3 L340.0 120.8 L341.5 115.5 L343.0 111.4 L344.6 112.4 L346.1 115.5 L347.9 119.3 L349.7 122.3 L351.7 123.5 L353.7 125.6 L355.5 125.3 L357.3 125.0 L359.3 124.6 L360.8 120.8 L362.3 116.5 L363.8 117.0 L365.4 119.3 L367.3 120.5 L369.2 118.5 L370.4 115.5 L371.6 113.2 L372.0 113.9 L373.5 117.0 L375.0 120.0 L376.6 123.0 L378.1 125.0 L379.9 123.0 L381.9 121.5 L383.8 122.0 L385.7 123.8 L387.2 126.8 L389.0 129.6 L391.0 131.1 L393.3 130.6 L395.5 129.1 L397.8 129.1 L399.6 127.6 L400.8 123.8 L402.4 122.3 L403.9 124.6 L405.4 126.1 L407.7 125.3 L410.0 125.0 L412.2 124.1 L413.7 122.3 L415.3 120.0 L417.2 119.3 L419.1 120.8 L420.9 121.5 L422.9 121.1 L424.4 122.3 L425.9 125.3 L427.4 127.6 L428.5 125.3 L429.7 122.3 L430.9 126.8 L432.0 130.6 L433.5 131.1 L435.8 129.9 L438.0 129.1 L439.6 129.1 L441.1 126.1 L442.6 120.8 L443.8 114.7 L444.9 111.4 L445.9 116.2 L447.1 120.8 L448.7 123.8 L450.2 126.1 L452.2 124.6 L454.0 123.0 L455.8 123.8 L457.8 123.0 L459.7 120.8 L461.6 121.5 L463.4 125.3 L465.4 128.4 L467.3 130.2 L468.0 129.9 L469.5 129.6 L471.3 130.6 L473.3 129.9 L475.6 128.4 L477.9 126.8 L480.1 127.6 L482.4 126.5 L484.7 126.1 L486.5 125.3 L488.5 126.1 L490.8 125.6 L492.6 126.5 L494.1 126.1 L495.6 129.1 L497.6 132.2 L499.6 130.6 L501.4 129.1 L503.2 126.8 L504.7 125.6 L506.7 126.8 L508.7 127.6 L510.5 127.1 L512.8 129.1 L515.1 127.6 L517.3 126.8 L519.3 125.3 L521.1 123.5 L523.0 124.1 L524.5 126.1 L526.4 125.0 L528.0 123.0 L529.9 123.5 L531.8 124.1 L534.0 122.3 L536.0 124.6 L537.8 126.1 L539.7 127.6 L541.6 124.6 L543.6 125.3 L545.4 126.5 L547.2 125.3 L549.2 126.1 L551.2 127.6 L553.0 129.9 L554.8 132.2 L556.4 132.6 L557.9 129.9 L559.4 130.6 L560.9 128.4 L562.4 130.6 L563.9 129.1 L565.5 129.6" fill="none" stroke="#1414ff" stroke-width="1.2" stroke-linejoin="round" />
<path d="M48.9 174.8 L52.6 175.3 L56.2 175.3 L59.9 175.3 L62.0 174.8 L63.5 171.9 L65.0 167.5 L66.4 163.9 L68.3 161.7 L70.1 161.0 L71.8 162.1 L73.7 163.6 L75.6 166.1 L77.4 169.7 L78.8 172.9 L80.3 175.3 L83.2 175.6 L87.6 175.6 L92.0 175.9 L97.1 175.9" fill="none" stroke="#c3d82e" stroke-width="1.1" stroke-linejoin="round" />
<path d="M177.3 175.2 L181.1 175.2 L183.4 173.7 L184.9 170.4 L186.4 167.3 L188.4 165.0 L190.2 164.0 L192.5 163.8 L194.8 164.0 L196.6 165.5 L198.1 168.8 L199.6 172.6 L201.6 174.9 L204.6 175.4 L211.5 175.4 L217.5 175.2 L220.6 174.6 L222.9 171.9 L224.8 168.8 L226.7 166.6 L228.5 165.4 L230.4 165.4 L232.7 166.1 L235.0 166.1 L237.0 168.1 L238.8 171.1 L240.6 173.4 L243.0 174.9 L246.4 175.4 L254.0 175.4 L260.8 175.2 L263.1 174.2 L264.9 171.6 L266.4 168.8 L268.4 166.1 L270.4 164.3 L271.6 164.0 L272.0 164.3 L273.8 166.1 L275.8 169.1 L277.8 172.2 L279.6 174.2 L281.9 174.9 L287.2 175.2 L294.8 175.2 L300.8 174.9 L303.1 173.7 L305.1 171.1 L306.9 168.8 L308.7 166.6 L310.7 165.4 L312.7 165.0 L314.5 165.5 L316.0 168.1 L317.5 171.9 L319.1 174.6 L321.3 175.4 L329.7 175.7 L338.8 175.7 L342.6 174.9 L344.6 172.6 L346.1 169.6 L347.3 166.6 L348.2 166.1 L349.1 169.6 L350.0 174.6 L351.2 169.6 L352.5 165.0 L353.7 163.1 L355.2 163.1 L356.4 165.8 L357.6 170.4 L358.8 174.2 L360.8 175.2 L366.1 175.4 L371.4 175.7 L372.0 175.7 L378.1 175.7 L381.9 175.2 L383.8 172.6 L385.4 168.1 L386.9 162.8 L388.4 158.2 L389.9 155.9 L391.7 155.9 L394.0 156.7 L396.0 159.7 L397.5 165.0 L398.6 171.1 L399.6 174.9 L401.6 175.7 L410.0 175.7 L417.5 175.7 L419.8 174.9 L421.3 172.6 L422.9 168.8 L424.4 164.3 L425.9 160.5 L427.4 157.9 L429.4 157.2 L431.2 159.0 L433.0 159.4 L435.0 159.4 L436.5 162.8 L437.7 168.1 L438.8 173.4 L440.3 175.7 L444.9 175.7 L450.9 175.7 L457.0 175.7 L460.8 175.2 L462.3 172.6 L463.5 168.1 L464.9 162.8 L466.4 158.2 L467.6 155.8 L468.0 155.5 L469.5 156.4 L471.0 156.7 L472.6 155.2 L474.1 157.9 L475.6 162.8 L477.1 167.3 L478.3 169.6 L479.4 168.1 L480.4 172.6 L482.0 175.2 L483.9 176.4 L487.0 176.4 L489.3 175.2 L490.8 172.6 L492.0 169.6 L493.0 169.1 L494.6 171.6 L496.8 172.6 L499.1 173.4 L501.1 174.9 L502.6 172.6 L504.1 168.8 L506.0 164.3 L507.8 161.3 L509.3 159.7 L510.8 162.0 L512.3 164.3 L513.8 164.0 L515.4 166.6 L516.9 171.9 L518.4 175.2 L520.4 175.7 L523.4 176.4 L526.4 176.4 L531.8 176.1 L535.6 175.7 L538.6 174.2 L540.9 173.7 L543.1 171.1 L545.4 168.8 L547.7 166.1 L550.0 167.3 L552.3 168.1 L554.5 168.8 L556.4 172.6 L557.9 176.1 L559.4 174.2 L561.4 174.2 L563.6 175.7 L565.5 176.4" fill="none" stroke="#c3d82e" stroke-width="1.1" stroke-linejoin="round" />
<path d="M48.9 170.0 L50.4 171.2 L52.3 172.7 L53.7 173.4 L55.5 170.9 L57.2 171.5 L59.1 170.5 L61.0 170.0 L62.5 171.2 L63.9 174.1 L65.7 175.3 L67.4 174.8 L69.3 173.8 L71.5 173.4 L73.7 172.9 L75.9 172.7 L77.7 171.2 L79.6 166.1 L81.5 161.7 L82.9 158.4 L83.9 156.9 L85.0 161.0 L86.4 166.1 L87.9 169.7 L89.3 173.4 L90.5 176.7 L92.3 175.9 L94.2 174.4 L95.6 173.4 L96.6 172.9" fill="none" stroke="#404040" stroke-width="0.9" stroke-linejoin="round" />
<path d="M177.3 173.4 L178.8 171.6 L180.3 169.6 L181.4 171.9 L182.6 173.7 L184.9 173.4 L187.2 173.1 L190.2 172.6 L193.3 172.6 L196.3 172.2 L198.6 171.1 L200.5 168.8 L202.1 165.8 L203.6 163.5 L205.1 165.0 L206.9 167.0 L208.7 170.4 L210.3 174.2 L211.8 176.9 L213.3 175.7 L215.3 174.2 L217.5 173.1 L220.6 172.6 L224.4 172.6 L228.2 172.2 L232.0 172.6 L235.8 171.9 L238.8 171.1 L241.1 169.6 L243.0 168.1 L244.9 167.8 L246.4 168.5 L247.9 171.1 L249.7 173.1 L251.7 174.6 L254.0 174.6 L256.3 172.6 L258.2 171.6 L260.1 172.2 L262.3 172.6 L264.6 172.2 L266.9 173.1 L269.2 172.6 L271.4 172.2 L272.0 172.6 L275.0 172.2 L278.1 171.1 L280.3 169.1 L282.3 167.3 L284.1 166.6 L286.0 166.6 L287.5 167.6 L289.0 170.1 L290.5 172.2 L292.5 173.1 L294.8 173.7 L297.0 173.7 L299.3 172.2 L301.6 172.6 L303.9 174.2 L306.2 173.7 L308.4 173.1 L310.7 172.6 L313.0 172.6 L315.3 172.2 L317.5 170.4 L319.8 167.6 L321.8 165.0 L323.3 163.8 L324.4 166.1 L325.4 168.1 L326.7 167.6 L328.2 169.6 L329.7 171.1 L331.5 172.6 L333.5 173.1 L335.5 172.2 L337.3 172.6 L339.6 171.1 L341.5 172.2 L343.4 173.4 L345.6 174.2 L347.9 173.1 L350.2 172.6 L352.5 172.6 L354.7 172.2 L357.0 171.1 L358.5 168.1 L360.1 164.3 L361.6 161.0 L363.1 159.0 L364.3 162.0 L365.8 165.8 L367.3 169.6 L368.6 174.6 L369.9 176.4 L371.4 176.1 L372.0 175.7 L375.0 174.9 L377.3 173.1 L379.3 171.6 L380.8 171.1 L382.6 172.2 L384.9 173.4 L387.2 173.7 L390.2 173.1 L393.3 172.6 L396.3 171.9 L398.1 170.4 L399.6 166.6 L401.1 163.5 L402.4 162.5 L403.6 165.8 L404.6 171.1 L406.2 173.1 L407.7 172.2 L409.2 172.6 L410.7 174.2 L412.2 174.9 L414.5 173.4 L417.5 173.1 L420.6 172.6 L424.4 173.1 L428.2 172.6 L432.0 172.6 L435.0 172.2 L437.3 171.1 L438.8 168.8 L440.3 164.3 L441.8 159.7 L442.9 157.0 L444.0 161.3 L445.2 165.0 L446.7 167.3 L448.2 169.6 L449.7 171.9 L451.7 174.2 L453.2 175.2 L454.7 173.1 L456.3 173.4 L457.8 171.9 L459.3 171.1 L460.8 172.2 L462.3 175.2 L463.8 176.4 L466.1 176.1 L467.6 173.7 L468.0 173.1 L471.0 172.6 L474.1 171.9 L477.1 171.1 L479.8 170.1 L482.0 169.1 L483.9 169.6 L486.2 170.4 L488.5 171.1 L490.5 173.4 L492.6 174.2 L495.3 173.7 L498.4 172.6 L501.4 172.2 L504.4 172.2 L507.5 172.6 L510.5 172.6 L513.5 172.2 L516.3 171.9 L518.1 170.4 L519.9 169.1 L521.9 169.6 L523.9 171.1 L525.7 170.4 L528.0 171.1 L530.2 171.9 L532.5 171.9 L534.8 173.4 L536.3 174.9 L538.1 173.7 L540.9 173.1 L543.9 172.6 L546.9 172.6 L550.0 173.1 L553.0 173.1 L556.1 172.6 L557.6 170.4 L559.1 169.1 L560.3 171.1 L560.9 173.7 L562.4 172.6 L563.9 172.2 L565.5 172.2" fill="none" stroke="#404040" stroke-width="0.9" stroke-linejoin="round" />
<path d="M49 218.8H97.5M177 218.8H567" stroke="#8585ff" stroke-width="0.9" fill="none"/>
<path d="M378.8 218.6 L380.3 218.0 L382.6 217.7 L384.9 217.8 L387.2 213.9 L389.9 218.6Z" fill="#8585ff" stroke="#8585ff" stroke-width="0.5"/>
<path d="M501.4 218.6 L502.9 217.2 L506.0 216.9 L507.2 216.2 L508.1 204.8 L508.7 191.9 L509.6 191.1 L510.5 191.9 L511.3 204.8 L512.3 216.2 L513.2 218.1 L515.1 218.6Z" fill="#8585ff" stroke="#8585ff" stroke-width="0.5"/>
<path d="M535.6 218.6 L537.5 217.2 L539.4 218.6Z" fill="#8585ff" stroke="#8585ff" stroke-width="0.5"/>
<path d="M545.4 218.6 L546.9 216.6 L548.0 216.0 L549.2 217.2 L550.7 218.6Z" fill="#8585ff" stroke="#8585ff" stroke-width="0.5"/>
<path d="M48.9 209.9 L50.4 210.7 L52.6 211.4 L55.5 211.1 L57.7 210.7 L59.9 210.4 L61.3 211.4 L62.5 214.3 L63.9 217.2 L65.7 218.2 L70.1 218.6 L75.9 218.6 L80.3 218.4 L84.7 217.7 L87.6 217.2 L90.5 217.7 L93.4 217.7 L95.6 217.2 L97.1 218.2" fill="none" stroke="#111" stroke-width="0.9" stroke-linejoin="round" />
<path d="M177.3 212.4 L178.4 210.1 L179.3 200.2 L180.2 191.9 L181.1 194.1 L182.0 200.2 L182.9 207.8 L184.1 213.1 L185.7 216.2 L187.9 217.7 L191.7 218.4 L197.8 218.4 L202.4 218.1 L205.4 216.9 L210.0 215.7 L214.5 214.3 L218.3 213.1 L220.3 212.4 L221.6 211.1 L222.9 213.1 L224.4 216.2 L225.9 218.1 L229.7 218.6 L235.8 218.6 L241.8 218.1 L247.9 217.8 L254.0 217.4 L258.5 217.2 L260.8 215.4 L262.3 212.4 L263.5 211.1 L264.6 212.4 L265.8 215.4 L267.3 218.1 L270.7 218.6 L272.0 218.6 L278.1 218.4 L284.1 218.1 L288.7 217.8 L290.2 216.2 L291.1 211.6 L292.0 209.6 L293.3 209.8 L294.5 211.6 L296.0 213.9 L297.8 215.1 L300.1 215.7 L302.4 216.6 L304.6 217.8 L308.4 218.6 L317.5 218.6 L323.6 218.1 L326.7 217.2 L328.9 216.6 L330.4 215.7 L332.0 213.9 L333.2 212.4 L334.2 213.6 L335.5 213.1 L336.5 210.1 L337.6 206.6 L338.5 206.3 L339.6 209.3 L341.1 212.4 L343.0 215.4 L345.2 217.4 L347.9 218.3 L354.0 218.6 L363.1 218.4 L369.2 217.8 L371.4 217.2 L372.0 217.2 L374.3 215.1 L376.6 213.9 L378.8 213.6 L380.8 214.6 L382.6 216.6 L384.4 218.1 L388.7 218.6 L396.3 218.6 L402.4 218.1 L408.4 217.5 L414.5 217.8 L420.6 218.1 L426.7 218.4 L435.8 218.6 L444.9 218.1 L450.9 217.7 L454.7 217.2 L458.5 217.8 L462.3 217.4 L464.6 218.3 L469.2 218.6 L476.0 218.6 L487.4 218.6" fill="none" stroke="#111" stroke-width="0.9" stroke-linejoin="round" />
<circle cx="48.9" cy="204.1" r="1.1" fill="#2430ff"/>
<circle cx="50.6" cy="202.5" r="1.1" fill="#3827ff"/>
<circle cx="52.2" cy="201.6" r="1.1" fill="#4323ff"/>
<circle cx="53.9" cy="200.9" r="1.1" fill="#4d1fff"/>
<circle cx="55.6" cy="200.4" r="1.1" fill="#5c1cfa"/>
<circle cx="57.2" cy="200.0" r="1.1" fill="#6b1af4"/>
<circle cx="58.9" cy="199.7" r="1.1" fill="#7618ef"/>
<circle cx="60.5" cy="199.7" r="1.1" fill="#7618ef"/>
<circle cx="62.2" cy="202.7" r="1.1" fill="#28a3fd"/>
<circle cx="63.9" cy="209.0" r="1.1" fill="#3dec27"/>
<circle cx="65.5" cy="211.3" r="1.1" fill="#c1f01e"/>
<circle cx="67.2" cy="212.9" r="1.1" fill="#f8d51e"/>
<circle cx="68.9" cy="213.8" r="1.1" fill="#ff971d"/>
<circle cx="70.5" cy="214.5" r="1.1" fill="#ff5615"/>
<circle cx="72.2" cy="214.7" r="1.1" fill="#ff4913"/>
<circle cx="73.9" cy="214.7" r="1.1" fill="#ff8f1c"/>
<circle cx="75.5" cy="214.3" r="1.1" fill="#f7de1e"/>
<circle cx="77.2" cy="213.4" r="1.1" fill="#acf01e"/>
<circle cx="78.8" cy="212.1" r="1.1" fill="#44ec26"/>
<circle cx="80.5" cy="209.3" r="1.1" fill="#28e2e2"/>
<circle cx="82.2" cy="206.6" r="1.1" fill="#2470ff"/>
<circle cx="83.8" cy="205.4" r="1.1" fill="#2a2dff"/>
<circle cx="85.5" cy="205.1" r="1.1" fill="#3828ff"/>
<circle cx="87.2" cy="204.9" r="1.1" fill="#4124ff"/>
<circle cx="88.8" cy="204.6" r="1.1" fill="#4423ff"/>
<circle cx="90.5" cy="206.9" r="1.1" fill="#252fff"/>
<circle cx="92.1" cy="207.7" r="1.1" fill="#2430ff"/>
<circle cx="93.8" cy="207.1" r="1.1" fill="#3329ff"/>
<circle cx="95.5" cy="206.4" r="1.1" fill="#4224ff"/>
<circle cx="97.1" cy="207.2" r="1.1" fill="#3e25ff"/>
<circle cx="176.6" cy="203.0" r="1.1" fill="#4423ff"/>
<circle cx="178.2" cy="202.3" r="1.1" fill="#5c1cfa"/>
<circle cx="179.9" cy="202.0" r="1.1" fill="#6d19f3"/>
<circle cx="181.5" cy="202.2" r="1.1" fill="#7618ef"/>
<circle cx="183.2" cy="203.8" r="1.1" fill="#312aff"/>
<circle cx="184.9" cy="206.3" r="1.1" fill="#28b0fb"/>
<circle cx="186.5" cy="209.7" r="1.1" fill="#2be779"/>
<circle cx="188.2" cy="211.3" r="1.1" fill="#6cee23"/>
<circle cx="189.9" cy="212.0" r="1.1" fill="#b6f01e"/>
<circle cx="191.5" cy="212.4" r="1.1" fill="#e5f01e"/>
<circle cx="193.2" cy="212.7" r="1.1" fill="#f4f01e"/>
<circle cx="194.8" cy="212.5" r="1.1" fill="#baf01e"/>
<circle cx="196.5" cy="211.8" r="1.1" fill="#7fee21"/>
<circle cx="198.2" cy="210.9" r="1.1" fill="#47ec26"/>
<circle cx="199.8" cy="209.5" r="1.1" fill="#2ee954"/>
<circle cx="201.5" cy="208.2" r="1.1" fill="#28e4b7"/>
<circle cx="203.2" cy="206.8" r="1.1" fill="#28d3f7"/>
<circle cx="204.8" cy="205.4" r="1.1" fill="#278fff"/>
<circle cx="206.5" cy="204.3" r="1.1" fill="#214dff"/>
<circle cx="208.2" cy="203.4" r="1.1" fill="#252fff"/>
<circle cx="209.8" cy="202.6" r="1.1" fill="#3927ff"/>
<circle cx="211.5" cy="202.0" r="1.1" fill="#501eff"/>
<circle cx="213.1" cy="201.8" r="1.1" fill="#661af6"/>
<circle cx="214.8" cy="201.6" r="1.1" fill="#7518f0"/>
<circle cx="216.5" cy="201.5" r="1.1" fill="#7c17ed"/>
<circle cx="218.1" cy="201.7" r="1.1" fill="#7618ef"/>
<circle cx="219.8" cy="202.2" r="1.1" fill="#5d1cfa"/>
<circle cx="221.5" cy="203.2" r="1.1" fill="#3828ff"/>
<circle cx="223.1" cy="205.1" r="1.1" fill="#2682ff"/>
<circle cx="224.8" cy="208.2" r="1.1" fill="#29e788"/>
<circle cx="226.4" cy="211.7" r="1.1" fill="#93ef1f"/>
<circle cx="228.1" cy="213.4" r="1.1" fill="#f8d81e"/>
<circle cx="229.8" cy="214.3" r="1.1" fill="#ff921c"/>
<circle cx="231.4" cy="214.6" r="1.1" fill="#ff5314"/>
<circle cx="233.1" cy="214.6" r="1.1" fill="#ff4412"/>
<circle cx="234.8" cy="214.5" r="1.1" fill="#ff5715"/>
<circle cx="236.4" cy="214.1" r="1.1" fill="#ff9b1d"/>
<circle cx="238.1" cy="213.5" r="1.1" fill="#f6e51e"/>
<circle cx="239.7" cy="212.3" r="1.1" fill="#9cf01e"/>
<circle cx="241.4" cy="210.9" r="1.1" fill="#46ec26"/>
<circle cx="243.1" cy="209.5" r="1.1" fill="#2de864"/>
<circle cx="244.7" cy="208.2" r="1.1" fill="#28e5ad"/>
<circle cx="246.4" cy="207.0" r="1.1" fill="#28e1ec"/>
<circle cx="248.1" cy="205.9" r="1.1" fill="#28acfc"/>
<circle cx="249.7" cy="205.0" r="1.1" fill="#246cff"/>
<circle cx="251.4" cy="204.1" r="1.1" fill="#1e34ff"/>
<circle cx="253.1" cy="203.3" r="1.1" fill="#2f2bff"/>
<circle cx="254.7" cy="202.8" r="1.1" fill="#4522ff"/>
<circle cx="256.4" cy="202.4" r="1.1" fill="#5f1cf9"/>
<circle cx="258.0" cy="202.2" r="1.1" fill="#7618ef"/>
<circle cx="259.7" cy="202.4" r="1.1" fill="#7618ef"/>
<circle cx="261.4" cy="203.6" r="1.1" fill="#3927ff"/>
<circle cx="263.0" cy="205.5" r="1.1" fill="#28affc"/>
<circle cx="264.7" cy="208.6" r="1.1" fill="#2ce865"/>
<circle cx="266.4" cy="211.9" r="1.1" fill="#f5ef1e"/>
<circle cx="268.0" cy="213.7" r="1.1" fill="#ff951d"/>
<circle cx="269.7" cy="214.1" r="1.1" fill="#ff6717"/>
<circle cx="271.3" cy="214.3" r="1.1" fill="#ff6016"/>
<circle cx="273.0" cy="214.6" r="1.1" fill="#ff6016"/>
<circle cx="274.7" cy="214.5" r="1.1" fill="#ff6e18"/>
<circle cx="276.3" cy="214.0" r="1.1" fill="#fea71e"/>
<circle cx="278.0" cy="212.4" r="1.1" fill="#b7f01e"/>
<circle cx="279.7" cy="210.5" r="1.1" fill="#30ea40"/>
<circle cx="281.3" cy="208.4" r="1.1" fill="#28e4c5"/>
<circle cx="283.0" cy="206.5" r="1.1" fill="#28bcfa"/>
<circle cx="284.6" cy="205.4" r="1.1" fill="#2681ff"/>
<circle cx="286.3" cy="205.1" r="1.1" fill="#225cff"/>
<circle cx="288.0" cy="205.4" r="1.1" fill="#225aff"/>
<circle cx="289.6" cy="205.7" r="1.1" fill="#225aff"/>
<circle cx="291.3" cy="205.9" r="1.1" fill="#2256ff"/>
<circle cx="293.0" cy="205.3" r="1.1" fill="#1f40ff"/>
<circle cx="294.6" cy="205.4" r="1.1" fill="#214eff"/>
<circle cx="296.3" cy="205.4" r="1.1" fill="#2150ff"/>
<circle cx="298.0" cy="205.0" r="1.1" fill="#1f3cff"/>
<circle cx="299.6" cy="204.6" r="1.1" fill="#1f3cff"/>
<circle cx="301.3" cy="204.8" r="1.1" fill="#225aff"/>
<circle cx="302.9" cy="205.8" r="1.1" fill="#28a2fd"/>
<circle cx="304.6" cy="208.3" r="1.1" fill="#28e5b1"/>
<circle cx="306.3" cy="211.2" r="1.1" fill="#6bee23"/>
<circle cx="307.9" cy="213.0" r="1.1" fill="#f7e11e"/>
<circle cx="309.6" cy="214.3" r="1.1" fill="#ff7a19"/>
<circle cx="311.3" cy="214.6" r="1.1" fill="#ff4311"/>
<circle cx="312.9" cy="214.4" r="1.1" fill="#ff5c15"/>
<circle cx="314.6" cy="213.9" r="1.1" fill="#ff9f1e"/>
<circle cx="316.2" cy="213.0" r="1.1" fill="#f6ea1e"/>
<circle cx="317.9" cy="211.9" r="1.1" fill="#a1f01e"/>
<circle cx="319.6" cy="210.8" r="1.1" fill="#4dec26"/>
<circle cx="321.2" cy="209.5" r="1.1" fill="#2ce86b"/>
<circle cx="322.9" cy="208.1" r="1.1" fill="#28e4be"/>
<circle cx="324.6" cy="207.3" r="1.1" fill="#28d3f7"/>
<circle cx="326.2" cy="206.5" r="1.1" fill="#2898ff"/>
<circle cx="327.9" cy="205.7" r="1.1" fill="#2259ff"/>
<circle cx="329.6" cy="204.8" r="1.1" fill="#332aff"/>
<circle cx="331.2" cy="204.6" r="1.1" fill="#4821ff"/>
<circle cx="332.9" cy="204.5" r="1.1" fill="#501eff"/>
<circle cx="334.5" cy="204.5" r="1.1" fill="#531efe"/>
<circle cx="336.2" cy="204.5" r="1.1" fill="#631bf7"/>
<circle cx="337.9" cy="204.5" r="1.1" fill="#7418f0"/>
<circle cx="339.5" cy="204.7" r="1.1" fill="#6f19f2"/>
<circle cx="341.2" cy="205.2" r="1.1" fill="#4522ff"/>
<circle cx="342.9" cy="207.4" r="1.1" fill="#28ccf8"/>
<circle cx="344.5" cy="209.8" r="1.1" fill="#28e5a3"/>
<circle cx="346.2" cy="211.6" r="1.1" fill="#59ed24"/>
<circle cx="347.8" cy="213.0" r="1.1" fill="#f7e31e"/>
<circle cx="349.5" cy="213.9" r="1.1" fill="#ff861b"/>
<circle cx="351.2" cy="214.2" r="1.1" fill="#ff5d16"/>
<circle cx="352.8" cy="214.3" r="1.1" fill="#ff7819"/>
<circle cx="354.5" cy="213.9" r="1.1" fill="#fdb21e"/>
<circle cx="356.2" cy="213.2" r="1.1" fill="#f5ed1e"/>
<circle cx="357.8" cy="211.9" r="1.1" fill="#a1f01e"/>
<circle cx="359.5" cy="210.6" r="1.1" fill="#3eec27"/>
<circle cx="361.1" cy="208.9" r="1.1" fill="#28e696"/>
<circle cx="362.8" cy="207.2" r="1.1" fill="#28e2e9"/>
<circle cx="364.5" cy="205.8" r="1.1" fill="#2898ff"/>
<circle cx="366.1" cy="204.6" r="1.1" fill="#1f3aff"/>
<circle cx="367.8" cy="203.8" r="1.1" fill="#4024ff"/>
<circle cx="369.5" cy="203.4" r="1.1" fill="#581dfb"/>
<circle cx="371.1" cy="203.3" r="1.1" fill="#7019f2"/>
<circle cx="372.8" cy="203.2" r="1.1" fill="#7618ef"/>
<circle cx="374.5" cy="203.0" r="1.1" fill="#7618ef"/>
<circle cx="376.1" cy="202.8" r="1.1" fill="#7019f2"/>
<circle cx="377.8" cy="202.5" r="1.1" fill="#681af5"/>
<circle cx="379.4" cy="202.5" r="1.1" fill="#501eff"/>
<circle cx="381.1" cy="202.9" r="1.1" fill="#3429ff"/>
<circle cx="382.8" cy="207.1" r="1.1" fill="#29e68e"/>
<circle cx="384.4" cy="210.3" r="1.1" fill="#80ef21"/>
<circle cx="386.1" cy="212.6" r="1.1" fill="#fac91e"/>
<circle cx="387.8" cy="213.9" r="1.1" fill="#ff6717"/>
<circle cx="389.4" cy="214.4" r="1.1" fill="#ff3d10"/>
<circle cx="391.1" cy="214.6" r="1.1" fill="#ff3d10"/>
<circle cx="392.7" cy="214.6" r="1.1" fill="#ff4d13"/>
<circle cx="394.4" cy="214.5" r="1.1" fill="#ff6b17"/>
<circle cx="396.1" cy="214.0" r="1.1" fill="#ff9a1d"/>
<circle cx="397.7" cy="212.1" r="1.1" fill="#e5f01e"/>
<circle cx="399.4" cy="210.6" r="1.1" fill="#79ee22"/>
<circle cx="401.1" cy="209.8" r="1.1" fill="#3beb27"/>
<circle cx="402.7" cy="209.1" r="1.1" fill="#2ee955"/>
<circle cx="404.4" cy="208.2" r="1.1" fill="#28e5a1"/>
<circle cx="406.0" cy="207.5" r="1.1" fill="#28e2de"/>
<circle cx="407.7" cy="206.8" r="1.1" fill="#28bdfa"/>
<circle cx="409.4" cy="206.4" r="1.1" fill="#278cff"/>
<circle cx="411.0" cy="206.9" r="1.1" fill="#278cff"/>
<circle cx="412.7" cy="207.5" r="1.1" fill="#289cfe"/>
<circle cx="414.4" cy="207.6" r="1.1" fill="#289aff"/>
<circle cx="416.0" cy="207.0" r="1.1" fill="#246eff"/>
<circle cx="417.7" cy="206.5" r="1.1" fill="#235fff"/>
<circle cx="419.4" cy="206.1" r="1.1" fill="#204aff"/>
<circle cx="421.0" cy="206.6" r="1.1" fill="#2365ff"/>
<circle cx="422.7" cy="208.0" r="1.1" fill="#28befa"/>
<circle cx="424.3" cy="209.6" r="1.1" fill="#28e4be"/>
<circle cx="426.0" cy="210.9" r="1.1" fill="#36eb28"/>
<circle cx="427.7" cy="211.9" r="1.1" fill="#abf01e"/>
<circle cx="429.3" cy="212.5" r="1.1" fill="#e9f01e"/>
<circle cx="431.0" cy="212.5" r="1.1" fill="#e8f01e"/>
<circle cx="432.7" cy="212.1" r="1.1" fill="#c1f01e"/>
<circle cx="434.3" cy="211.7" r="1.1" fill="#9bf01e"/>
<circle cx="436.0" cy="211.6" r="1.1" fill="#81ef21"/>
<circle cx="437.6" cy="211.5" r="1.1" fill="#69ee23"/>
<circle cx="439.3" cy="211.2" r="1.1" fill="#39eb27"/>
<circle cx="441.0" cy="210.5" r="1.1" fill="#2de864"/>
<circle cx="442.6" cy="209.7" r="1.1" fill="#28e69d"/>
<circle cx="444.3" cy="208.9" r="1.1" fill="#28e4c0"/>
<circle cx="446.0" cy="208.3" r="1.1" fill="#28e2e3"/>
<circle cx="447.6" cy="207.8" r="1.1" fill="#28e0f5"/>
<circle cx="449.3" cy="207.4" r="1.1" fill="#28d5f7"/>
<circle cx="450.9" cy="207.0" r="1.1" fill="#28cef8"/>
<circle cx="452.6" cy="207.0" r="1.1" fill="#28c4f9"/>
<circle cx="454.3" cy="207.1" r="1.1" fill="#28b5fb"/>
<circle cx="455.9" cy="207.4" r="1.1" fill="#2893ff"/>
<circle cx="457.6" cy="207.9" r="1.1" fill="#246eff"/>
<circle cx="459.3" cy="208.1" r="1.1" fill="#2360ff"/>
<circle cx="460.9" cy="208.2" r="1.1" fill="#2577ff"/>
<circle cx="462.6" cy="208.8" r="1.1" fill="#28e2e1"/>
<circle cx="464.3" cy="209.6" r="1.1" fill="#2be779"/>
<circle cx="465.9" cy="210.2" r="1.1" fill="#44ec26"/>
<circle cx="467.6" cy="210.7" r="1.1" fill="#68ed23"/>
<circle cx="469.2" cy="210.8" r="1.1" fill="#35eb28"/>
<circle cx="470.9" cy="210.7" r="1.1" fill="#2ee956"/>
<circle cx="472.6" cy="210.4" r="1.1" fill="#29e789"/>
<circle cx="474.2" cy="209.9" r="1.1" fill="#28e3d2"/>
<circle cx="475.9" cy="210.2" r="1.1" fill="#28e0f5"/>
<circle cx="477.6" cy="211.8" r="1.1" fill="#28e3cf"/>
<circle cx="479.2" cy="210.4" r="1.1" fill="#28cdf8"/>
<circle cx="480.9" cy="209.8" r="1.1" fill="#278dff"/>
<circle cx="482.5" cy="209.5" r="1.1" fill="#2368ff"/>
<circle cx="484.2" cy="209.0" r="1.1" fill="#2043ff"/>
<circle cx="485.9" cy="208.4" r="1.1" fill="#282eff"/>
<circle cx="487.5" cy="207.9" r="1.1" fill="#3529ff"/>
<path d="M49.2 282.6 L51.6 282.2 L53.6 281.2 L55.7 281.8 L57.1 279.2 L59.1 279.8 L61.1 281.8 L63.2 283.2 L65.2 285.9 L67.2 286.7 L68.8 285.3 L70.4 286.7 L71.9 288.7 L73.3 289.9 L74.9 287.9 L76.5 291.3 L77.9 285.3 L79.4 283.2 L81.0 284.2 L83.0 280.6 L85.0 280.2 L87.0 279.8 L89.1 279.2 L90.1 284.2 L91.1 291.3 L92.1 295.4 L93.1 297.4 L94.1 294.4 L95.1 289.3 L96.2 288.3 L97.2 290.3 L98.2 291.3" fill="none" stroke="#a8442a" stroke-width="0.95" stroke-linejoin="round" />
<path d="M177.3 280.9 L179.6 280.5 L181.9 279.9 L184.1 280.2 L186.4 279.9 L188.7 280.5 L191.0 281.4 L193.3 280.9 L195.5 281.7 L197.8 280.9 L199.6 282.0 L201.1 282.5 L203.1 280.9 L204.6 279.9 L206.2 280.5 L207.7 279.4 L208.9 280.9 L210.0 282.9 L211.2 281.4 L212.7 279.9 L214.5 279.4 L216.8 279.7 L219.1 279.6 L221.3 280.2 L223.6 279.9 L225.1 279.4 L227.0 280.5 L228.9 281.4 L231.2 280.9 L233.5 281.4 L235.8 282.0 L238.0 281.4 L239.6 282.5 L241.1 280.9 L242.6 281.7 L244.6 282.0 L246.4 281.4 L247.9 282.0 L250.2 282.5 L252.5 283.2 L254.7 282.0 L256.7 280.5 L258.5 279.4 L260.8 279.9 L263.1 280.2 L265.4 280.9 L266.9 281.7 L268.4 280.2 L269.9 281.4 L271.6 280.3 L272.0 280.2 L274.3 279.7 L276.6 280.2 L278.8 281.4 L281.1 282.0 L283.4 281.4 L285.4 280.2 L286.9 279.4 L288.4 278.4 L289.9 279.9 L291.4 280.9 L293.3 279.0 L294.8 277.4 L296.3 279.0 L298.1 279.9 L300.1 280.2 L302.1 279.9 L303.9 280.2 L305.4 279.4 L307.2 280.5 L309.2 282.0 L311.2 282.5 L312.7 281.4 L314.2 282.9 L316.0 284.7 L318.3 284.7 L320.3 283.5 L322.1 282.0 L323.9 280.2 L325.4 279.4 L327.0 280.5 L328.5 279.4 L330.0 281.4 L331.5 280.2 L333.0 279.4 L334.5 280.5 L336.1 279.0 L337.6 279.9 L339.6 280.2 L341.5 280.9 L343.4 282.0 L345.2 283.5 L346.7 284.4 L348.7 282.9 L350.6 282.0 L352.5 280.9 L354.7 281.7 L356.7 282.9 L358.5 280.9 L360.1 279.4 L361.6 280.5 L363.1 279.4 L364.9 278.4 L366.9 279.4 L368.9 280.2 L370.7 282.0 L372.0 280.9 L373.8 282.0 L375.8 281.4 L377.8 282.5 L379.6 283.2 L381.4 282.9 L382.9 284.4 L384.1 280.9 L385.4 279.9 L386.9 280.5 L388.7 279.7 L391.0 280.5 L393.3 280.9 L395.5 280.6 L397.8 282.0 L400.1 280.2 L402.4 280.9 L404.6 281.4 L406.9 280.2 L409.2 279.4 L411.5 279.9 L413.7 279.4 L416.0 279.9 L418.3 279.6 L420.6 280.2 L422.9 279.7 L425.1 280.2 L427.4 281.4 L429.7 282.0 L432.0 281.4 L434.2 280.9 L436.5 281.7 L438.8 283.2 L440.6 280.9 L442.1 278.7 L443.7 279.4 L445.2 277.9 L446.7 279.0 L448.2 276.8 L449.7 279.4 L451.2 275.9 L452.8 278.7 L454.0 280.9 L455.5 278.4 L456.7 277.4 L458.2 278.7 L459.3 282.0 L460.5 284.7 L461.9 282.5 L463.4 280.9 L465.4 281.4 L467.3 280.6 L468.0 280.2 L469.5 280.5 L471.0 281.7 L472.6 284.0 L474.4 286.3 L475.9 287.5 L477.4 289.0 L478.9 287.0 L480.4 290.0 L482.0 292.3 L483.5 294.6 L484.7 291.6 L485.6 284.7 L486.5 280.9 L488.0 282.5 L489.6 284.0 L491.1 282.9 L492.3 282.0 L493.5 285.5 L494.7 287.0 L495.6 284.0 L496.8 282.9 L498.1 284.0 L499.1 287.8 L500.2 291.6 L501.7 292.3 L503.7 293.1 L506.0 293.5 L507.8 293.1 L509.0 289.3 L509.9 285.5 L510.8 290.0 L511.7 292.3 L512.9 292.0 L514.3 293.1 L515.8 293.5 L516.9 293.8 L517.8 290.0 L518.7 285.5 L519.6 280.9 L520.5 279.4 L521.4 283.2 L522.3 287.5 L523.3 284.7 L524.2 280.9 L525.1 280.2 L526.0 282.5 L526.9 284.4 L528.0 282.9 L529.0 284.0 L530.2 289.3 L531.5 292.3 L533.0 291.6 L534.5 292.3 L536.0 290.8 L537.2 287.8 L538.4 284.0 L539.7 280.9 L540.9 282.0 L542.1 281.4 L543.3 284.7 L544.5 287.8 L545.7 286.3 L546.9 283.2 L548.2 284.4 L549.4 282.9 L550.6 284.0 L551.8 280.9 L553.0 279.4 L554.2 281.7 L555.4 285.5 L556.7 288.5 L557.9 285.5 L559.1 282.5 L560.0 284.7 L560.9 290.0 L561.8 293.8 L563.0 294.6 L564.3 290.8 L565.2 284.7 L566.1 280.9 L566.7 280.2" fill="none" stroke="#a8442a" stroke-width="0.95" stroke-linejoin="round" />
<path d="M49.2 299.4 L59.7 299.4 L61.1 297.4 L62.8 294.0 L64.4 290.7 L66.4 289.9 L68.4 289.3 L69.8 290.7 L71.3 289.9 L72.5 288.3 L73.9 288.7 L75.3 289.9 L76.5 291.9 L77.7 296.4 L78.9 298.8 L80.6 299.4 L87.0 299.4 L89.1 297.4 L90.7 295.4 L92.1 296.8 L93.1 299.4 L94.7 299.4 L96.2 295.4 L97.2 293.4 L98.2 293.4" fill="none" stroke="#000" stroke-width="0.95" stroke-linejoin="round" />
<path d="M177.3 299.6 L180.3 299.6 L181.4 296.1 L182.6 293.1 L184.1 291.1 L185.7 289.3 L187.2 287.8 L188.4 287.0 L189.5 289.0 L190.5 291.1 L191.7 289.0 L193.3 288.5 L194.8 288.5 L196.0 291.1 L197.0 294.6 L198.1 298.4 L199.6 299.6 L210.0 299.6 L213.7 299.2 L216.8 298.7 L219.1 296.9 L220.6 293.8 L222.1 290.8 L223.3 289.0 L224.8 289.3 L226.3 290.0 L227.9 289.6 L229.4 291.1 L230.9 292.0 L232.4 291.1 L233.9 291.6 L235.5 293.5 L237.0 295.4 L238.5 297.2 L240.0 299.2 L241.8 299.6 L254.7 299.6 L257.0 298.7 L258.5 296.1 L260.1 294.1 L261.9 293.5 L263.8 293.1 L265.8 293.1 L267.3 291.1 L268.9 290.5 L270.4 292.0 L271.6 291.0 L272.0 291.6 L273.5 290.8 L275.0 293.1 L276.6 295.4 L278.4 297.6 L280.3 299.2 L282.6 299.6 L297.0 299.6 L298.6 297.6 L300.1 294.6 L301.6 292.6 L303.1 293.1 L304.6 292.3 L306.6 292.0 L308.4 292.6 L310.3 294.1 L312.2 296.1 L314.5 298.1 L316.8 299.3 L319.1 299.6 L338.0 299.6 L339.6 298.4 L341.1 295.7 L342.1 295.4 L343.4 297.2 L344.9 296.6 L346.4 297.2 L347.9 296.1 L349.4 296.6 L350.9 295.7 L352.5 296.6 L354.0 296.1 L355.8 297.2 L357.3 298.7 L359.3 299.6 L366.1 299.6 L367.6 297.2 L368.9 298.7 L370.7 299.6 L372.0 299.2 L373.8 298.7 L375.0 297.6 L376.3 299.2 L378.1 299.6 L379.9 299.2 L381.1 296.9 L382.3 296.1 L383.5 297.6 L384.9 296.6 L386.0 294.1 L387.2 293.5 L388.4 294.6 L389.6 293.5 L391.0 294.1 L392.5 293.5 L394.0 293.8 L395.5 296.1 L397.0 298.1 L399.0 299.6 L416.8 299.6 L418.8 297.6 L420.6 294.6 L422.4 292.6 L424.4 292.3 L426.3 292.6 L428.2 293.1 L429.7 292.0 L431.2 289.6 L432.7 289.0 L433.9 291.6 L435.5 294.6 L437.0 297.6 L438.5 299.6 L460.8 299.6 L462.3 296.1 L463.8 292.3 L465.4 289.0 L466.4 288.1 L467.6 289.6 L468.0 290.0 L469.5 291.6 L471.0 293.8 L472.6 296.1 L474.1 295.4 L475.6 297.2 L477.1 296.6 L478.6 297.6 L480.1 297.2 L481.7 298.7 L483.2 298.1 L484.7 299.2 L486.2 299.6 L488.5 299.6 L490.0 297.6 L491.1 296.1 L492.3 295.4 L493.8 296.9 L495.3 296.1 L496.8 296.6 L498.1 294.6 L499.1 291.6 L500.6 290.0 L502.2 287.8 L503.2 284.0 L504.4 280.2 L505.6 278.4 L506.9 278.7 L507.8 280.9 L508.7 286.3 L509.6 290.8 L510.5 287.8 L511.4 284.0 L512.3 280.2 L513.2 279.9 L514.2 283.2 L515.1 287.8 L516.3 292.3 L517.5 295.4 L518.9 297.2 L520.4 298.7 L521.9 299.2 L523.4 298.1 L524.9 297.6 L526.4 296.9 L528.0 298.7 L529.0 296.9 L530.2 294.6 L531.5 292.3 L532.7 291.6 L533.9 293.1 L535.1 292.3 L536.3 294.6 L537.5 296.1 L538.7 294.6 L540.0 293.1 L541.2 293.8 L542.4 292.3 L543.6 290.0 L544.8 287.8 L546.0 288.5 L547.2 287.0 L548.5 287.8 L549.7 285.5 L550.9 284.0 L552.1 280.9 L553.0 279.4 L553.9 281.7 L554.8 285.5 L555.7 290.0 L556.7 294.6 L557.6 298.1 L558.5 294.6 L559.4 293.8 L560.6 294.6 L561.8 293.8 L563.0 295.4 L564.3 296.9 L565.2 294.6 L565.9 293.1" fill="none" stroke="#000" stroke-width="0.95" stroke-linejoin="round" />
<path d="M328.2 24.95H527.5V301.4H329.05V24.95" fill="none" stroke="#000" stroke-width="1.6" stroke-dasharray="1.7 2.15"/>
<text transform="translate(8.8,38.3) rotate(-90)" text-anchor="middle" fill="#000" font-weight="bold" font-size="7.0" textLength="36.5" lengthAdjust="spacing">Mass conc.</text>
<text transform="translate(19.3,38.3) rotate(-90)" text-anchor="middle" fill="#000" font-weight="bold" font-size="7.0" textLength="22.7" lengthAdjust="spacing">(µg/m<tspan dy="-4.3" font-size="4.4">3</tspan><tspan dy="4.3">)</tspan></text>
<text transform="translate(9.2,82.2) rotate(-90)" text-anchor="middle" fill="#000" font-weight="bold" font-size="7.0" textLength="43.2" lengthAdjust="spacing">Mass fraction</text>
<text transform="translate(7.5,121.3) rotate(-90)" text-anchor="middle" fill="#47761c" font-weight="bold" font-size="7.0" textLength="13.2" lengthAdjust="spacing">NO<tspan dy="1.5" font-size="5">x</tspan></text>
<text transform="translate(16.9,121.5) rotate(-90)" text-anchor="middle" fill="#47761c" font-weight="bold" font-size="7.0" textLength="19" lengthAdjust="spacing">(ppb)</text>
<text transform="translate(6.1,162.4) rotate(-90)" text-anchor="middle" fill="#c3d82e" font-weight="bold" font-size="7.0">O<tspan dy="1.5" font-size="5">3</tspan></text>
<text transform="translate(18.9,162.2) rotate(-90)" text-anchor="middle" fill="#c3d82e" font-weight="bold" font-size="7.0" textLength="24.8" lengthAdjust="spacing">(µg/m<tspan dy="-4.3" font-size="4.4">3</tspan><tspan dy="4.3">)</tspan></text>
<text transform="translate(10.4,200.8) rotate(-90)" text-anchor="middle" fill="#000" font-weight="bold" font-size="7.0" textLength="44.3" lengthAdjust="spacing">ALWC (µg/m<tspan dy="-4.3" font-size="4.4">3</tspan><tspan dy="4.3">)</tspan></text>
<text transform="translate(19.2,201.1) rotate(-90)" text-anchor="middle" fill="#000" font-weight="bold" font-size="7.0" textLength="41.4" lengthAdjust="spacing">and RH (%)</text>
<text transform="translate(7.9,242.9) rotate(-90)" text-anchor="middle" fill="#f5875a" font-weight="bold" font-size="7.0" textLength="9.2" lengthAdjust="spacing">SR</text>
<text transform="translate(17.8,242) rotate(-90)" text-anchor="middle" fill="#f5875a" font-weight="bold" font-size="7.0" textLength="28.5" lengthAdjust="spacing">(Watt/m<tspan dy="-4.3" font-size="4.4">2</tspan><tspan dy="4.3">)</tspan></text>
<text transform="translate(13.2,286.5) rotate(-90)" text-anchor="middle" fill="#000" font-weight="bold" font-size="7.0" textLength="38" lengthAdjust="spacing">Wind speed</text>
<text transform="translate(20.5,285.8) rotate(-90)" text-anchor="middle" fill="#000" font-weight="bold" font-size="7.0" textLength="15.5" lengthAdjust="spacing">(m/s)</text>
<text transform="translate(612.2,121.6) rotate(90)" text-anchor="middle" fill="#000" font-weight="bold" font-size="7.0" textLength="36.4" lengthAdjust="spacing">mass conc.</text>
<text transform="translate(601.2,121.3) rotate(90)" text-anchor="middle" fill="#000" font-weight="bold" font-size="7.0" textLength="22.6" lengthAdjust="spacing">(µg/m<tspan dy="-4.3" font-size="4.4">3</tspan><tspan dy="4.3">)</tspan></text>
<text transform="translate(613.4,163.6) rotate(90)" text-anchor="middle" fill="#2a2a2a" font-weight="normal" font-size="7.0" textLength="9.3" lengthAdjust="spacing">CO</text>
<text transform="translate(603,163.3) rotate(90)" text-anchor="middle" fill="#2a2a2a" font-weight="normal" font-size="7.0" textLength="25.4" lengthAdjust="spacing">(mg/m<tspan dy="-4.3" font-size="4.4">3</tspan><tspan dy="4.3">)</tspan></text>
<text transform="translate(613.5,204.1) rotate(90)" text-anchor="middle" fill="#8585ff" font-weight="bold" font-size="7.0" textLength="40.4" lengthAdjust="spacing">Precipitation</text>
<text transform="translate(605.5,204.9) rotate(90)" text-anchor="middle" fill="#8585ff" font-weight="bold" font-size="7.0" textLength="16.8" lengthAdjust="spacing">(mm)</text>
<text transform="translate(612.3,246.1) rotate(90)" text-anchor="middle" fill="#47761c" font-weight="bold" font-size="7.0" textLength="35.1" lengthAdjust="spacing">PBL height</text>
<text transform="translate(604.3,246) rotate(90)" text-anchor="middle" fill="#47761c" font-weight="bold" font-size="7.0" textLength="10.2" lengthAdjust="spacing">(m)</text>
<text transform="translate(610.8,285.6) rotate(90)" text-anchor="middle" fill="#a8442a" font-weight="bold" font-size="7.0" textLength="16.5" lengthAdjust="spacing">Wind</text>
<text transform="translate(602.6,285.5) rotate(90)" text-anchor="middle" fill="#a8442a" font-weight="bold" font-size="7.0" textLength="28.7" lengthAdjust="spacing">direction</text>
<text x="98.8" y="29.7" fill="#6226f0" font-weight="bold" font-size="9.4">(a)</text>
<text x="99.5" y="69.2" fill="#6226f0" font-weight="bold" font-size="9.4">(b)</text>
<text x="100.5" y="111.5" fill="#6226f0" font-weight="bold" font-size="9.4">(c)</text>
<text x="100.3" y="153.9" fill="#6226f0" font-weight="bold" font-size="9.4">(d)</text>
<text x="100.3" y="196.7" fill="#6226f0" font-weight="bold" font-size="9.4">(e)</text>
<text x="102.1" y="234.6" fill="#6226f0" font-weight="bold" font-size="9.4">(f)</text>
<text x="99.8" y="278.5" fill="#6226f0" font-weight="bold" font-size="9.4">(g)</text>
<text x="209.5" y="22.3" fill="#ff3df5" font-weight="bold" font-size="7.7">Chloride peak</text>
<text x="396.8" y="22" fill="#000" font-weight="bold" font-size="7.7" textLength="99.7" lengthAdjust="spacing">Drone measurement period</text>
<text x="48.6" y="318.8" text-anchor="middle" fill="#000" stroke="#000" stroke-width="0.2" font-weight="bold" font-size="7.4">11/03/2021</text>
<text x="128.4" y="318.8" text-anchor="middle" fill="#000" stroke="#000" stroke-width="0.2" font-weight="bold" font-size="7.4">13/03/2021</text>
<text x="208.3" y="318.8" text-anchor="middle" fill="#000" stroke="#000" stroke-width="0.2" font-weight="bold" font-size="7.4">15/03/2021</text>
<text x="288.1" y="318.8" text-anchor="middle" fill="#000" stroke="#000" stroke-width="0.2" font-weight="bold" font-size="7.4">17/03/2021</text>
<text x="367.9" y="318.8" text-anchor="middle" fill="#000" stroke="#000" stroke-width="0.2" font-weight="bold" font-size="7.4">19/03/2021</text>
<text x="447.8" y="318.8" text-anchor="middle" fill="#000" stroke="#000" stroke-width="0.2" font-weight="bold" font-size="7.4">21/03/2021</text>
<text x="527.6" y="318.8" text-anchor="middle" fill="#000" stroke="#000" stroke-width="0.2" font-weight="bold" font-size="7.4">23/03/2021</text>
<text x="301.3" y="330" text-anchor="middle" fill="#000" font-weight="bold" font-size="8.6">Date</text>
<line x1="628" y1="42.30" x2="642.5" y2="42.30" stroke="#3dff05" stroke-width="1"/>
<text x="645.8" y="44.55" font-size="7.65" fill="#000">Organics</text>
<line x1="628" y1="50.88" x2="642.5" y2="50.88" stroke="#4a4aff" stroke-width="1"/>
<text x="645.8" y="53.13" font-size="7.65" fill="#000">Nitrate</text>
<line x1="628" y1="59.46" x2="642.5" y2="59.46" stroke="#ff2a1a" stroke-width="1"/>
<text x="645.8" y="61.71" font-size="7.65" fill="#000">Sulfate</text>
<line x1="628" y1="68.04" x2="642.5" y2="68.04" stroke="#f5a030" stroke-width="1"/>
<text x="645.8" y="70.29" font-size="7.65" fill="#000">Ammonium</text>
<line x1="628" y1="76.62" x2="642.5" y2="76.62" stroke="#ff50f5" stroke-width="1"/>
<text x="645.8" y="78.87" font-size="7.65" fill="#000">Chloride</text>
<line x1="628" y1="85.20" x2="642.5" y2="85.20" stroke="#111" stroke-width="1"/>
<text x="645.8" y="87.45" font-size="7.65" fill="#000">eBC</text>
<line x1="630.1" y1="113.25" x2="646" y2="113.25" stroke="#f58585" stroke-width="0.9"/>
<text x="650.1" y="115.25" font-size="6.7" fill="#000">NO<tspan dy="1.6" font-size="4.8">2</tspan></text>
<line x1="630.1" y1="123.3" x2="646" y2="123.3" stroke="#1414ff" stroke-width="1.0"/>
<text x="650.1" y="125.30" font-size="6.7" fill="#000">PM<tspan dy="1.6" font-size="4.8">2.5</tspan></text>
<line x1="630.1" y1="134.0" x2="646" y2="134.0" stroke="#7fe8d8" stroke-width="1.2"/>
<text x="650.1" y="136.00" font-size="6.7" fill="#000">SO<tspan dy="1.6" font-size="4.8">2</tspan></text>
<text x="551.4" y="192.9" font-size="8.1" fill="#000">RH</text>
<g stroke="#ff1414" stroke-width="1.05" stroke-linecap="butt"><path d="M537.1 188.6L541.1 192.6M541.1 188.6L537.1 192.6M536.9 190.6H541.3M539.1 188.6V192.6"/></g>
<defs><linearGradient id="cb" x1="0" y1="1" x2="0" y2="0"><stop offset="0" stop-color="#8800cc"/><stop offset="0.08" stop-color="#6a10e8"/><stop offset="0.18" stop-color="#2828ff"/><stop offset="0.28" stop-color="#2090ff"/><stop offset="0.35" stop-color="#20e0f0"/><stop offset="0.45" stop-color="#28f080"/><stop offset="0.6" stop-color="#40f820"/><stop offset="0.75" stop-color="#90f818"/><stop offset="0.84" stop-color="#f0f020"/><stop offset="0.91" stop-color="#ffa020"/><stop offset="0.96" stop-color="#ff4010"/><stop offset="1" stop-color="#f02010"/></linearGradient></defs>
<rect x="636.8" y="187.4" width="6.9" height="31.3" fill="url(#cb)" stroke="#333" stroke-width="0.4"/>
<line x1="643.7" y1="187.9" x2="648.2" y2="187.9" stroke="#333" stroke-width="0.6"/>
<text x="650.4" y="190.2" font-size="6.5" font-weight="bold" fill="#000">35</text>
<line x1="643.7" y1="195.7" x2="648.2" y2="195.7" stroke="#333" stroke-width="0.6"/>
<text x="650.4" y="198.0" font-size="6.5" font-weight="bold" fill="#000">30</text>
<line x1="643.7" y1="203.6" x2="648.2" y2="203.6" stroke="#333" stroke-width="0.6"/>
<text x="650.4" y="205.9" font-size="6.5" font-weight="bold" fill="#000">25</text>
<line x1="643.7" y1="211.5" x2="648.2" y2="211.5" stroke="#333" stroke-width="0.6"/>
<text x="650.4" y="213.8" font-size="6.5" font-weight="bold" fill="#000">20</text>
<text transform="translate(661.5,202.8) rotate(90)" text-anchor="middle" fill="#000" font-weight="bold" font-size="5.7" textLength="46.4" lengthAdjust="spacing">Temperature (°C)</text>
<rect x="348.2" y="0.8" width="43.6" height="22" fill="#fdfdf8"/>
<g fill="none" stroke="#111" stroke-width="0.45">
<ellipse cx="365.00" cy="4.21" rx="7.25" ry="2.76"/>
<ellipse cx="383.35" cy="9.06" rx="7.25" ry="2.90"/>
<ellipse cx="355.43" cy="13.05" rx="6.53" ry="2.76"/>
<path d="M358.69 5.44 Q360.50 7.25 365.00 7.25 M350.35 14.50 Q352.53 16.10 356.88 15.95 M377.91 10.88 Q383.71 12.69 389.51 10.15" stroke-width="0.4"/>
</g>
<g fill="none" stroke="#000" stroke-linecap="round" stroke-linejoin="round">
<path d="M365.00 4.93 L369.21 10.51" stroke-width="1.35"/>
<path d="M354.70 13.63 L365.58 12.18 M375.01 10.15 L384.43 9.06 M370.66 14.50 L373.92 17.77" stroke-width="1.05"/>
<path d="M364.13 11.02 L367.03 8.12 L369.57 9.43 L375.01 9.28 L376.31 11.46 L374.86 13.78 L371.74 13.92 L370.08 15.23 L367.75 14.21 L365.22 13.78 Z" fill="#000" stroke-width="0.5"/>
<circle cx="365.00" cy="4.93" r="0.9" fill="#000" stroke="none"/>
<path d="M363.26 13.42 L361.66 18.85 L362.82 19.00 L365.00 15.59 M375.37 12.69 L378.05 14.50 L377.18 19.00 L373.19 21.17 L372.25 18.13 L373.70 16.68" stroke-width="0.55"/>
<path d="M367.03 9.79 L366.74 13.78 M371.02 10.88 L372.25 11.46" stroke="#fff" stroke-width="0.4"/>
</g>
</svg>
</body></html>
